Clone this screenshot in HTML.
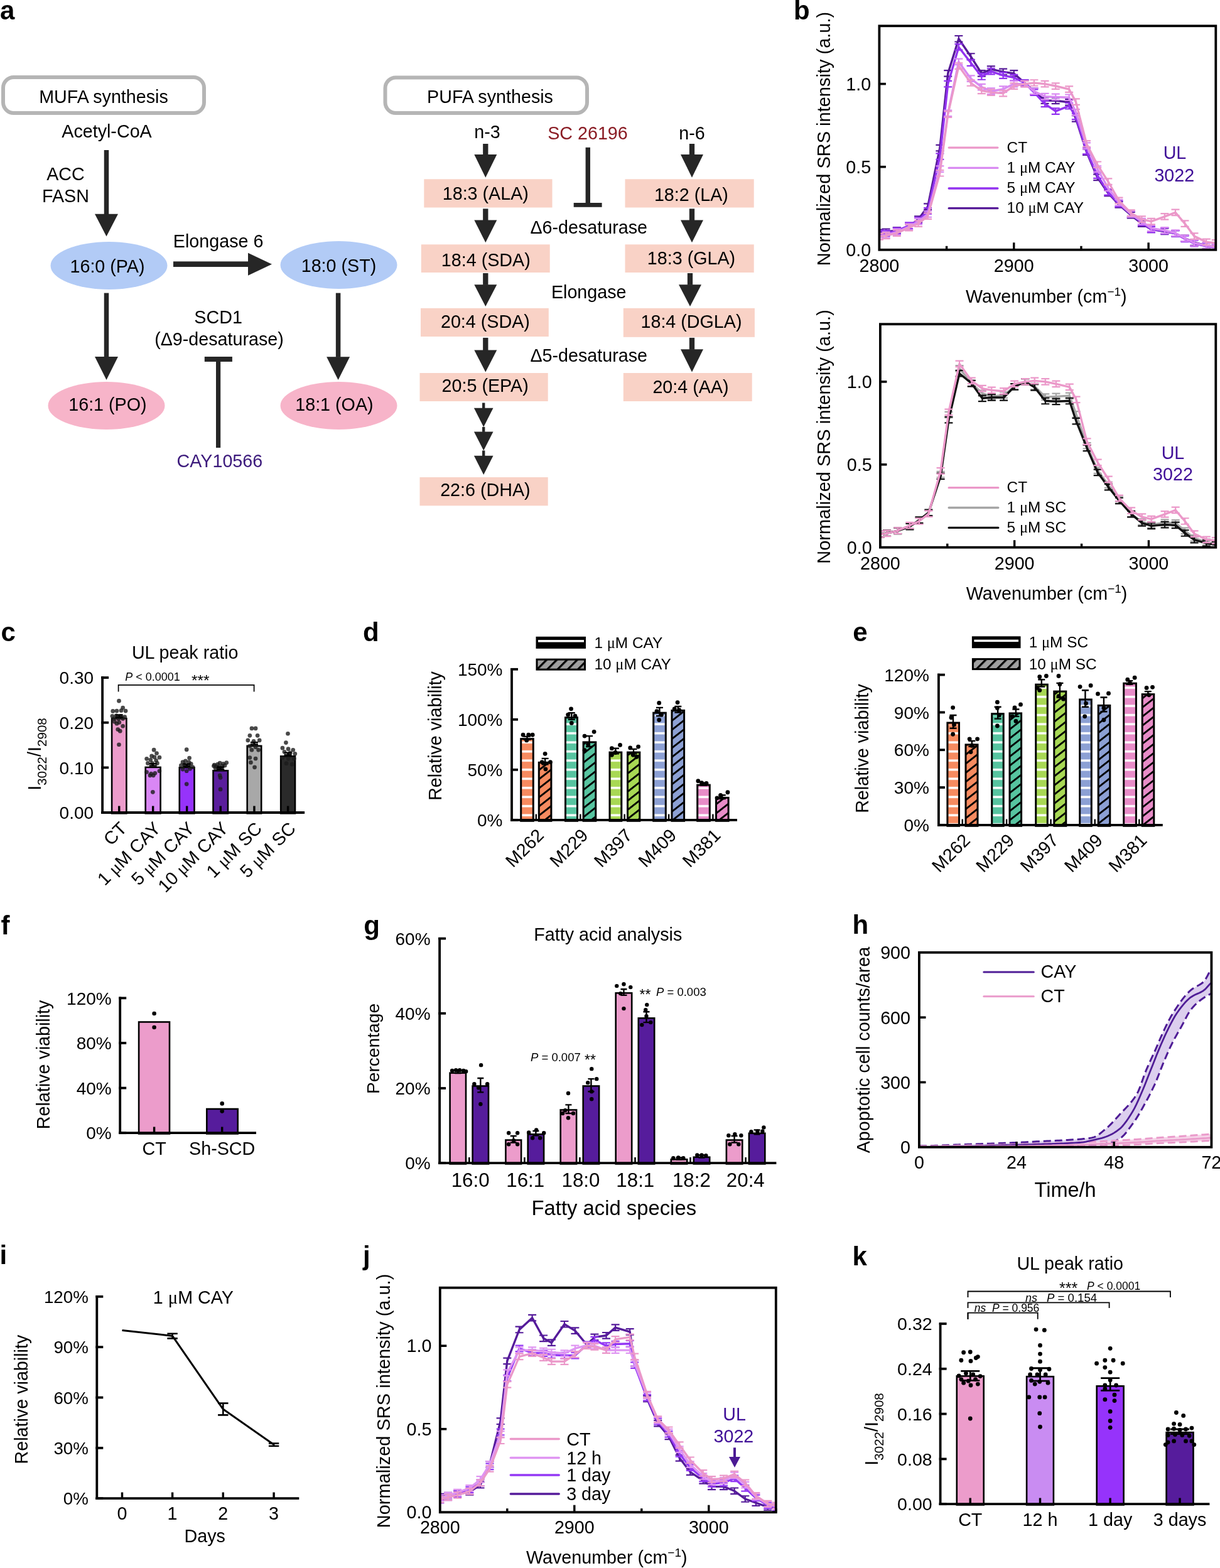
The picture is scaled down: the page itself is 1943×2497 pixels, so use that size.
<!DOCTYPE html>
<html><head><meta charset="utf-8"><title>Figure</title>
<style>
html,body{margin:0;padding:0;background:#fff;overflow:hidden;}
svg{display:block;}
</style></head>
<body>
<svg width="1943" height="2497" viewBox="0 0 1943 2497" font-family='"Liberation Sans", Arial, sans-serif' font-size="28.7">
<rect width="1943" height="2497" fill="#fff"/>
<text x="0" y="30.5" font-size="42" font-weight="bold">a</text>
<rect x="5" y="123" width="320" height="57" fill="#fff" stroke="#b5b5b5" stroke-width="6" rx="17"/>
<text x="165" y="163.5" text-anchor="middle">MUFA synthesis</text>
<rect x="613.5" y="123.5" width="321.5" height="56.5" fill="#fff" stroke="#b5b5b5" stroke-width="6" rx="17"/>
<text x="780.5" y="163.5" text-anchor="middle">PUFA synthesis</text>
<text x="170" y="218.5" text-anchor="middle">Acetyl-CoA</text>
<text x="104.5" y="287" text-anchor="middle">ACC</text>
<text x="104.5" y="322" text-anchor="middle">FASN</text>
<rect x="165.75" y="239" width="7.5" height="102.2" fill="#262626"/>
<polygon points="151,340.7 188,340.7 169.5,376.6" fill="#262626"/>
<ellipse cx="173.5" cy="423" rx="93" ry="38" fill="#b2cbf6"/>
<ellipse cx="539.5" cy="422" rx="93" ry="38" fill="#b2cbf6"/>
<text x="171" y="433.9" text-anchor="middle">16:0 (PA)</text>
<text x="539.5" y="432.7" text-anchor="middle">18:0 (ST)</text>
<text x="347.6" y="393.6" text-anchor="middle">Elongase 6</text>
<rect x="276" y="416.35" width="119.5" height="8.7" fill="#262626"/>
<polygon points="395,402.7 395,438.7 433,420.7" fill="#262626"/>
<rect x="165.75" y="466.6" width="7.5" height="101.9" fill="#262626"/>
<polygon points="151,568 188,568 169.5,605" fill="#262626"/>
<rect x="534.85" y="466.6" width="7.5" height="102.2" fill="#262626"/>
<polygon points="520.1,568.3 557.1,568.3 538.6,605" fill="#262626"/>
<ellipse cx="169.5" cy="646" rx="93" ry="38" fill="#f7b4c9"/>
<ellipse cx="539.5" cy="646" rx="93" ry="38" fill="#f7b4c9"/>
<text x="171.4" y="653.8" text-anchor="middle">16:1 (PO)</text>
<text x="532.4" y="653.8" text-anchor="middle">18:1 (OA)</text>
<text x="347.6" y="514.8" text-anchor="middle">SCD1</text>
<text x="349" y="549.5" text-anchor="middle">(Δ9-desaturase)</text>
<rect x="344" y="572" width="7.2" height="141" fill="#262626"/>
<rect x="325.8" y="568" width="44.1" height="8" fill="#262626"/>
<text x="349.9" y="743.5" text-anchor="middle" fill="#3c1a7c">CAY10566</text>
<text x="776" y="219.8" text-anchor="middle">n-3</text>
<text x="936" y="222.4" text-anchor="middle" fill="#8a1c24">SC 26196</text>
<text x="1102" y="222.4" text-anchor="middle">n-6</text>
<rect x="769.15" y="229" width="8.3" height="17.5" fill="#262626"/>
<polygon points="755.3,246 791.3,246 773.3,282.7" fill="#262626"/>
<rect x="1097.85" y="229" width="8.3" height="17.5" fill="#262626"/>
<polygon points="1084,246 1120,246 1102,282.7" fill="#262626"/>
<rect x="675.3" y="285.3" width="204.2" height="45.2" fill="#f9d2c6"/>
<text x="773.3" y="317.7" text-anchor="middle">18:3 (ALA)</text>
<rect x="995.5" y="285.3" width="205.2" height="45.2" fill="#f9d2c6"/>
<text x="1100.9" y="320.3" text-anchor="middle">18:2 (LA)</text>
<rect x="670.8" y="389.3" width="204.9" height="44.7" fill="#f9d2c6"/>
<text x="773.8" y="423.9" text-anchor="middle">18:4 (SDA)</text>
<rect x="995.5" y="389.3" width="205.2" height="44.7" fill="#f9d2c6"/>
<text x="1101" y="420.9" text-anchor="middle">18:3 (GLA)</text>
<rect x="670" y="490.8" width="203.8" height="45.2" fill="#f9d2c6"/>
<text x="772.9" y="522.4" text-anchor="middle">20:4 (SDA)</text>
<rect x="992.8" y="490.8" width="209.1" height="46" fill="#f9d2c6"/>
<text x="1101" y="522.4" text-anchor="middle">18:4 (DGLA)</text>
<rect x="668.5" y="594" width="204.2" height="45" fill="#f9d2c6"/>
<text x="772.7" y="624.1" text-anchor="middle">20:5 (EPA)</text>
<rect x="992.8" y="594" width="204.9" height="45" fill="#f9d2c6"/>
<text x="1100" y="626.4" text-anchor="middle">20:4 (AA)</text>
<rect x="668.5" y="760" width="204.2" height="45.3" fill="#f9d2c6"/>
<text x="772.9" y="790.2" text-anchor="middle">22:6 (DHA)</text>
<rect x="932.6" y="234.8" width="7.4" height="91.2" fill="#262626"/>
<rect x="913.7" y="323" width="44.9" height="6.8" fill="#262626"/>
<rect x="769.15" y="332.4" width="8.3" height="18.6" fill="#262626"/>
<polygon points="755.3,350.5 791.3,350.5 773.3,386.2" fill="#262626"/>
<rect x="1097.85" y="332.4" width="8.3" height="18.6" fill="#262626"/>
<polygon points="1084,350.5 1120,350.5 1102,386.2" fill="#262626"/>
<text x="937.7" y="372" text-anchor="middle">Δ6-desaturase</text>
<rect x="769.15" y="435" width="8.3" height="18.8" fill="#262626"/>
<polygon points="755.3,453.3 791.3,453.3 773.3,488" fill="#262626"/>
<rect x="1094.85" y="435" width="8.3" height="18.8" fill="#262626"/>
<polygon points="1081,453.3 1117,453.3 1099,488" fill="#262626"/>
<text x="937.7" y="474.8" text-anchor="middle">Elongase</text>
<rect x="769.15" y="537.9" width="8.3" height="20.1" fill="#262626"/>
<polygon points="755.3,557.5 791.3,557.5 773.3,592.5" fill="#262626"/>
<rect x="1097.85" y="537.9" width="8.3" height="18.9" fill="#262626"/>
<polygon points="1084,556.3 1120,556.3 1102,592.5" fill="#262626"/>
<text x="937.7" y="576.3" text-anchor="middle">Δ5-desaturase</text>
<rect x="768" y="641.5" width="4.4" height="8.8" fill="#262626"/>
<polygon points="754.9,649.8 785.5,649.8 770.2,679.9" fill="#262626"/>
<rect x="768" y="679.9" width="4.4" height="8" fill="#262626"/>
<polygon points="754.9,687.4 785.5,687.4 770.2,717.5" fill="#262626"/>
<rect x="768" y="717.5" width="4.4" height="8.8" fill="#262626"/>
<polygon points="754.9,725.8 785.5,725.8 770.2,756" fill="#262626"/>
<text x="1264" y="30.5" font-size="42" font-weight="bold">b</text>
<defs><clipPath id="cb1"><rect x="1400.4" y="41.3" width="535.9" height="356.5"/></clipPath><clipPath id="cb2"><rect x="1401.9" y="516.2" width="534.4" height="355.5"/></clipPath><clipPath id="cj"><rect x="700.8" y="2050.7" width="535" height="357.5"/></clipPath></defs>
<g clip-path="url(#cb1)">
<path d="M1400.4,365.57V375.08M1393.9,365.57H1406.9M1393.9,375.08H1406.9M1411.12,364.51V374.02M1404.62,364.51H1417.62M1404.62,374.02H1417.62M1428.27,362.13V371.64M1421.77,362.13H1434.77M1421.77,371.64H1434.77M1447.56,356.32V365.83M1441.06,356.32H1454.06M1441.06,365.83H1454.06M1462.56,344.43V353.94M1456.06,344.43H1469.06M1456.06,353.94H1469.06M1477.57,324.35V333.86M1471.07,324.35H1484.07M1471.07,333.86H1484.07M1496.86,230.83V240.34M1490.36,230.83H1503.36M1490.36,240.34H1503.36M1509.72,112.2V121.71M1503.22,112.2H1516.22M1503.22,121.71H1516.22M1526.87,56.98V66.49M1520.37,56.98H1533.37M1520.37,66.49H1533.37M1546.16,85.25V94.76M1539.66,85.25H1552.66M1539.66,94.76H1552.66M1563.31,112.2V121.71M1556.81,112.2H1569.81M1556.81,121.71H1569.81M1578.32,105.33V114.84M1571.82,105.33H1584.82M1571.82,114.84H1584.82M1597.61,109.56V119.07M1591.11,109.56H1604.11M1591.11,119.07H1604.11M1614.76,112.2V121.71M1608.26,112.2H1621.26M1608.26,121.71H1621.26M1631.91,127.26V136.77M1625.41,127.26H1638.41M1625.41,136.77H1638.41M1646.91,140.47V149.98M1640.41,140.47H1653.41M1640.41,149.98H1653.41M1664.06,155.26V164.78M1657.56,155.26H1670.56M1657.56,164.78H1670.56M1681.21,155.53V165.04M1674.71,155.53H1687.71M1674.71,165.04H1687.71M1702.65,158.17V167.68M1696.15,158.17H1709.15M1696.15,167.68H1709.15M1713.37,184.06V193.57M1706.87,184.06H1719.87M1706.87,193.57H1719.87M1730.51,237.43V246.94M1724.01,237.43H1737.01M1724.01,246.94H1737.01M1747.66,277.59V287.1M1741.16,277.59H1754.16M1741.16,287.1H1754.16M1764.81,302.69V312.2M1758.31,302.69H1771.31M1758.31,312.2H1771.31M1781.96,321.18V330.69M1775.46,321.18H1788.46M1775.46,330.69H1788.46M1801.25,337.83V347.34M1794.75,337.83H1807.75M1794.75,347.34H1807.75M1818.4,351.3V360.81M1811.9,351.3H1824.9M1811.9,360.81H1824.9M1833.41,360.55V370.06M1826.91,360.55H1839.91M1826.91,370.06H1839.91M1854.84,363.72V373.23M1848.34,363.72H1861.34M1848.34,373.23H1861.34M1871.99,367.15V376.66M1865.49,367.15H1878.49M1865.49,376.66H1878.49M1887,374.55V384.06M1880.5,374.55H1893.5M1880.5,384.06H1893.5M1902,381.42V390.93M1895.5,381.42H1908.5M1895.5,390.93H1908.5M1921.29,386.44V395.95M1914.79,386.44H1927.79M1914.79,395.95H1927.79M1936.3,388.82V398.33M1929.8,388.82H1942.8M1929.8,398.33H1942.8" stroke="#561a98" stroke-width="2.2" fill="none"/>
<polyline points="1400.4,370.32 1411.12,369.27 1428.27,366.89 1447.56,361.08 1462.56,349.19 1477.57,329.11 1496.86,235.58 1509.72,116.96 1526.87,61.74 1546.16,90.01 1563.31,116.96 1578.32,110.09 1597.61,114.31 1614.76,116.96 1631.91,132.01 1646.91,145.22 1664.06,160.02 1681.21,160.28 1702.65,162.93 1713.37,188.82 1730.51,242.19 1747.66,282.34 1764.81,307.44 1781.96,325.94 1801.25,342.58 1818.4,356.06 1833.41,365.3 1854.84,368.47 1871.99,371.91 1887,379.31 1902,386.18 1921.29,391.19 1936.3,393.57" fill="none" stroke="#561a98" stroke-width="3.4" stroke-linejoin="round"/>
<path d="M1400.4,367.95V377.46M1393.9,367.95H1406.9M1393.9,377.46H1406.9M1411.12,366.62V376.14M1404.62,366.62H1417.62M1404.62,376.14H1417.62M1428.27,362.93V372.44M1421.77,362.93H1434.77M1421.77,372.44H1434.77M1447.56,354.47V363.98M1441.06,354.47H1454.06M1441.06,363.98H1454.06M1462.56,346.28V355.79M1456.06,346.28H1469.06M1456.06,355.79H1469.06M1477.57,331.22V340.73M1471.07,331.22H1484.07M1471.07,340.73H1484.07M1496.86,244.3V253.81M1490.36,244.3H1503.36M1490.36,253.81H1503.36M1509.72,128.84V138.36M1503.22,128.84H1516.22M1503.22,138.36H1516.22M1526.87,70.19V79.7M1520.37,70.19H1533.37M1520.37,79.7H1533.37M1546.16,95.29V104.8M1539.66,95.29H1552.66M1539.66,104.8H1552.66M1563.31,117.22V126.73M1556.81,117.22H1569.81M1556.81,126.73H1569.81M1578.32,108.77V118.28M1571.82,108.77H1584.82M1571.82,118.28H1584.82M1597.61,115.37V124.88M1591.11,115.37H1604.11M1591.11,124.88H1604.11M1614.76,118.8V128.32M1608.26,118.8H1621.26M1608.26,128.32H1621.26M1631.91,127.26V136.77M1625.41,127.26H1638.41M1625.41,136.77H1638.41M1646.91,142.32V151.83M1640.41,142.32H1653.41M1640.41,151.83H1653.41M1664.06,160.55V170.06M1657.56,160.55H1670.56M1657.56,170.06H1670.56M1681.21,172.44V181.95M1674.71,172.44H1687.71M1674.71,181.95H1687.71M1702.65,163.98V173.49M1696.15,163.98H1709.15M1696.15,173.49H1709.15M1713.37,180.63V190.14M1706.87,180.63H1719.87M1706.87,190.14H1719.87M1730.51,235.85V245.36M1724.01,235.85H1737.01M1724.01,245.36H1737.01M1747.66,274.42V283.93M1741.16,274.42H1754.16M1741.16,283.93H1754.16M1764.81,301.1V310.61M1758.31,301.1H1771.31M1758.31,310.61H1771.31M1781.96,319.6V329.11M1775.46,319.6H1788.46M1775.46,329.11H1788.46M1801.25,336.24V345.75M1794.75,336.24H1807.75M1794.75,345.75H1807.75M1818.4,349.45V358.96M1811.9,349.45H1824.9M1811.9,358.96H1824.9M1833.41,360.55V370.06M1826.91,360.55H1839.91M1826.91,370.06H1839.91M1854.84,362.93V372.44M1848.34,362.93H1861.34M1848.34,372.44H1861.34M1871.99,367.15V376.66M1865.49,367.15H1878.49M1865.49,376.66H1878.49M1887,375.61V385.12M1880.5,375.61H1893.5M1880.5,385.12H1893.5M1902,383V392.52M1895.5,383H1908.5M1895.5,392.52H1908.5M1921.29,387.23V396.74M1914.79,387.23H1927.79M1914.79,396.74H1927.79M1936.3,389.61V399.12M1929.8,389.61H1942.8M1929.8,399.12H1942.8" stroke="#9232f0" stroke-width="2.2" fill="none"/>
<polyline points="1400.4,372.7 1411.12,371.38 1428.27,367.68 1447.56,359.23 1462.56,351.04 1477.57,335.98 1496.86,249.06 1509.72,133.6 1526.87,74.95 1546.16,100.05 1563.31,121.98 1578.32,113.52 1597.61,120.13 1614.76,123.56 1631.91,132.01 1646.91,147.07 1664.06,165.3 1681.21,177.19 1702.65,168.74 1713.37,185.38 1730.51,240.6 1747.66,279.17 1764.81,305.86 1781.96,324.35 1801.25,341 1818.4,354.21 1833.41,365.3 1854.84,367.68 1871.99,371.91 1887,380.36 1902,387.76 1921.29,391.99 1936.3,394.37" fill="none" stroke="#9232f0" stroke-width="3.4" stroke-linejoin="round"/>
<path d="M1400.4,371.38V380.89M1393.9,371.38H1406.9M1393.9,380.89H1406.9M1411.12,369.27V378.78M1404.62,369.27H1417.62M1404.62,378.78H1417.62M1428.27,364.51V374.02M1421.77,364.51H1434.77M1421.77,374.02H1434.77M1447.56,356.32V365.83M1441.06,356.32H1454.06M1441.06,365.83H1454.06M1462.56,347.87V357.38M1456.06,347.87H1469.06M1456.06,357.38H1469.06M1477.57,336.24V345.75M1471.07,336.24H1484.07M1471.07,345.75H1484.07M1496.86,264.38V273.89M1490.36,264.38H1503.36M1490.36,273.89H1503.36M1509.72,175.61V185.12M1503.22,175.61H1516.22M1503.22,185.12H1516.22M1526.87,93.71V103.22M1520.37,93.71H1533.37M1520.37,103.22H1533.37M1546.16,120.39V129.9M1539.66,120.39H1552.66M1539.66,129.9H1552.66M1563.31,133.86V143.38M1556.81,133.86H1569.81M1556.81,143.38H1569.81M1578.32,140.47V149.98M1571.82,140.47H1584.82M1571.82,149.98H1584.82M1597.61,137.3V146.81M1591.11,137.3H1604.11M1591.11,146.81H1604.11M1614.76,128.84V138.36M1608.26,128.84H1621.26M1608.26,138.36H1621.26M1631.91,128.84V138.36M1625.41,128.84H1638.41M1625.41,138.36H1638.41M1646.91,140.47V149.98M1640.41,140.47H1653.41M1640.41,149.98H1653.41M1664.06,148.92V158.43M1657.56,148.92H1670.56M1657.56,158.43H1670.56M1681.21,149.72V159.23M1674.71,149.72H1687.71M1674.71,159.23H1687.71M1702.65,150.51V160.02M1696.15,150.51H1709.15M1696.15,160.02H1709.15M1713.37,174.02V183.53M1706.87,174.02H1719.87M1706.87,183.53H1719.87M1730.51,227.39V236.9M1724.01,227.39H1737.01M1724.01,236.9H1737.01M1747.66,264.38V273.89M1741.16,264.38H1754.16M1741.16,273.89H1754.16M1764.81,294.5V304.01M1758.31,294.5H1771.31M1758.31,304.01H1771.31M1781.96,317.75V327.26M1775.46,317.75H1788.46M1775.46,327.26H1788.46M1801.25,336.24V345.75M1794.75,336.24H1807.75M1794.75,345.75H1807.75M1818.4,347.87V357.38M1811.9,347.87H1824.9M1811.9,357.38H1824.9M1833.41,358.7V368.21M1826.91,358.7H1839.91M1826.91,368.21H1839.91M1854.84,362.13V371.64M1848.34,362.13H1861.34M1848.34,371.64H1861.34M1871.99,366.36V375.87M1865.49,366.36H1878.49M1865.49,375.87H1878.49M1887,374.55V384.06M1880.5,374.55H1893.5M1880.5,384.06H1893.5M1902,382.21V391.72M1895.5,382.21H1908.5M1895.5,391.72H1908.5M1921.29,386.44V395.95M1914.79,386.44H1927.79M1914.79,395.95H1927.79M1936.3,388.82V398.33M1929.8,388.82H1942.8M1929.8,398.33H1942.8" stroke="#d98af2" stroke-width="2.2" fill="none"/>
<polyline points="1400.4,376.14 1411.12,374.02 1428.27,369.27 1447.56,361.08 1462.56,352.62 1477.57,341 1496.86,269.13 1509.72,180.36 1526.87,98.46 1546.16,125.15 1563.31,138.62 1578.32,145.22 1597.61,142.05 1614.76,133.6 1631.91,133.6 1646.91,145.22 1664.06,153.68 1681.21,154.47 1702.65,155.26 1713.37,178.78 1730.51,232.15 1747.66,269.13 1764.81,299.25 1781.96,322.5 1801.25,341 1818.4,352.62 1833.41,363.45 1854.84,366.89 1871.99,371.12 1887,379.31 1902,386.97 1921.29,391.19 1936.3,393.57" fill="none" stroke="#d98af2" stroke-width="3.4" stroke-linejoin="round"/>
<path d="M1400.4,372.17V381.68M1393.9,372.17H1406.9M1393.9,381.68H1406.9M1411.12,370.59V380.1M1404.62,370.59H1417.62M1404.62,380.1H1417.62M1428.27,366.36V375.87M1421.77,366.36H1434.77M1421.77,375.87H1434.77M1447.56,357.91V367.42M1441.06,357.91H1454.06M1441.06,367.42H1454.06M1462.56,351.3V360.81M1456.06,351.3H1469.06M1456.06,360.81H1469.06M1477.57,339.41V348.92M1471.07,339.41H1484.07M1471.07,348.92H1484.07M1496.86,270.98V280.5M1490.36,270.98H1503.36M1490.36,280.5H1503.36M1509.72,177.46V186.97M1503.22,177.46H1516.22M1503.22,186.97H1516.22M1526.87,100.31V109.82M1520.37,100.31H1533.37M1520.37,109.82H1533.37M1546.16,127.26V136.77M1539.66,127.26H1552.66M1539.66,136.77H1552.66M1563.31,139.68V149.19M1556.81,139.68H1569.81M1556.81,149.19H1569.81M1578.32,142.32V151.83M1571.82,142.32H1584.82M1571.82,151.83H1584.82M1597.61,143.9V153.42M1591.11,143.9H1604.11M1591.11,153.42H1604.11M1614.76,132.28V141.79M1608.26,132.28H1621.26M1608.26,141.79H1621.26M1631.91,128.84V138.36M1625.41,128.84H1638.41M1625.41,138.36H1638.41M1646.91,127.26V136.77M1640.41,127.26H1653.41M1640.41,136.77H1653.41M1664.06,128.84V138.36M1657.56,128.84H1670.56M1657.56,138.36H1670.56M1681.21,132.28V141.79M1674.71,132.28H1687.71M1674.71,141.79H1687.71M1702.65,137.3V146.81M1696.15,137.3H1709.15M1696.15,146.81H1709.15M1713.37,157.38V166.89M1706.87,157.38H1719.87M1706.87,166.89H1719.87M1730.51,224.22V233.73M1724.01,224.22H1737.01M1724.01,233.73H1737.01M1747.66,257.51V267.02M1741.16,257.51H1754.16M1741.16,267.02H1754.16M1764.81,284.46V293.97M1758.31,284.46H1771.31M1758.31,293.97H1771.31M1781.96,314.58V324.09M1775.46,314.58H1788.46M1775.46,324.09H1788.46M1801.25,334.39V343.9M1794.75,334.39H1807.75M1794.75,343.9H1807.75M1818.4,344.43V353.94M1811.9,344.43H1824.9M1811.9,353.94H1824.9M1833.41,347.87V357.38M1826.91,347.87H1839.91M1826.91,357.38H1839.91M1854.84,340.2V349.72M1848.34,340.2H1861.34M1848.34,349.72H1861.34M1871.99,333.6V343.11M1865.49,333.6H1878.49M1865.49,343.11H1878.49M1887,351.3V360.81M1880.5,351.3H1893.5M1880.5,360.81H1893.5M1902,371.38V380.89M1895.5,371.38H1908.5M1895.5,380.89H1908.5M1921.29,380.63V390.14M1914.79,380.63H1927.79M1914.79,390.14H1927.79M1936.3,382.21V391.72M1929.8,382.21H1942.8M1929.8,391.72H1942.8" stroke="#eb98c9" stroke-width="2.2" fill="none"/>
<polyline points="1400.4,376.93 1411.12,375.34 1428.27,371.12 1447.56,362.66 1462.56,356.06 1477.57,344.17 1496.86,275.74 1509.72,182.21 1526.87,105.07 1546.16,132.01 1563.31,144.43 1578.32,147.07 1597.61,148.66 1614.76,137.03 1631.91,133.6 1646.91,132.01 1664.06,133.6 1681.21,137.03 1702.65,142.05 1713.37,162.13 1730.51,228.98 1747.66,262.27 1764.81,289.21 1781.96,319.33 1801.25,339.15 1818.4,349.19 1833.41,352.62 1854.84,344.96 1871.99,338.36 1887,356.06 1902,376.14 1921.29,385.38 1936.3,386.97" fill="none" stroke="#eb98c9" stroke-width="3.4" stroke-linejoin="round"/>
</g>
<rect x="1400.4" y="41.3" width="535.9" height="356.5" fill="none" stroke="#000" stroke-width="3.8"/>
<line x1="1400.4" y1="265.7" x2="1410.9" y2="265.7" stroke="#000" stroke-width="3.6"/>
<line x1="1400.4" y1="133.6" x2="1410.9" y2="133.6" stroke="#000" stroke-width="3.6"/>
<text x="1387.1" y="408" text-anchor="end">0.0</text>
<text x="1387.1" y="275.9" text-anchor="end">0.5</text>
<text x="1387.1" y="143.8" text-anchor="end">1.0</text>
<line x1="1507.58" y1="397.8" x2="1507.58" y2="391.8" stroke="#000" stroke-width="3.4"/>
<line x1="1614.76" y1="397.8" x2="1614.76" y2="386.3" stroke="#000" stroke-width="3.4"/>
<line x1="1721.94" y1="397.8" x2="1721.94" y2="391.8" stroke="#000" stroke-width="3.4"/>
<line x1="1829.12" y1="397.8" x2="1829.12" y2="386.3" stroke="#000" stroke-width="3.4"/>
<line x1="1936.3" y1="397.8" x2="1936.3" y2="391.8" stroke="#000" stroke-width="3.4"/>
<text x="1400.4" y="433.2" text-anchor="middle">2800</text>
<text x="1614.76" y="433.2" text-anchor="middle">2900</text>
<text x="1829.12" y="433.2" text-anchor="middle">3000</text>
<text x="1666.35" y="481.5" text-anchor="middle">Wavenumber (cm<tspan font-size="19" dy="-11">−1</tspan><tspan dy="11">)</tspan></text>
<text x="1322.5" y="221.05" font-size="29" text-anchor="middle" transform="rotate(-90 1322.5 221.05)">Normalized SRS intensity (a.u.)</text>
<line x1="1511.2" y1="235.1" x2="1588.9" y2="235.1" stroke="#eb98c9" stroke-width="3.3" stroke-linecap="round"/>
<text x="1603.6" y="242.5" font-size="24.4">CT</text>
<line x1="1511.2" y1="267.4" x2="1588.9" y2="267.4" stroke="#d98af2" stroke-width="3.3" stroke-linecap="round"/>
<text x="1603.6" y="274.8" font-size="24.4">1 <tspan font-family="Liberation Serif">μ</tspan>M CAY</text>
<line x1="1511.2" y1="300" x2="1588.9" y2="300" stroke="#9232f0" stroke-width="3.3" stroke-linecap="round"/>
<text x="1603.6" y="307.4" font-size="24.4">5 <tspan font-family="Liberation Serif">μ</tspan>M CAY</text>
<line x1="1511.2" y1="331.7" x2="1588.9" y2="331.7" stroke="#561a98" stroke-width="3.3" stroke-linecap="round"/>
<text x="1603.6" y="339.1" font-size="24.4">10 <tspan font-family="Liberation Serif">μ</tspan>M CAY</text>
<text x="1871" y="253.2" text-anchor="middle" fill="#400f98">UL</text>
<text x="1870.3" y="288.8" text-anchor="middle" fill="#400f98">3022</text>
<g clip-path="url(#cb2)">
<path d="M1401.9,845.85V855.34M1395.4,845.85H1408.4M1395.4,855.34H1408.4M1412.59,844.26V853.76M1406.09,844.26H1419.09M1406.09,853.76H1419.09M1429.69,840.57V850.07M1423.19,840.57H1436.19M1423.19,850.07H1436.19M1448.93,832.66V842.15M1442.43,832.66H1455.43M1442.43,842.15H1455.43M1463.89,824.74V834.24M1457.39,824.74H1470.39M1457.39,834.24H1470.39M1478.85,812.87V822.37M1472.35,812.87H1485.35M1472.35,822.37H1485.35M1498.09,750.88V760.38M1491.59,750.88H1504.59M1491.59,760.38H1504.59M1510.92,655.91V665.41M1504.42,655.91H1517.42M1504.42,665.41H1517.42M1528.02,582.05V591.54M1521.52,582.05H1534.52M1521.52,591.54H1534.52M1547.26,605.79V615.29M1540.76,605.79H1553.76M1540.76,615.29H1553.76M1564.36,621.62V631.11M1557.86,621.62H1570.86M1557.86,631.11H1570.86M1579.32,626.89V636.39M1572.82,626.89H1585.82M1572.82,636.39H1585.82M1598.56,624.26V633.75M1592.06,624.26H1605.06M1592.06,633.75H1605.06M1615.66,611.07V620.56M1609.16,611.07H1622.16M1609.16,620.56H1622.16M1632.76,603.15V612.65M1626.26,603.15H1639.26M1626.26,612.65H1639.26M1647.72,610.54V620.03M1641.22,610.54H1654.22M1641.22,620.03H1654.22M1664.82,627.42V636.92M1658.32,627.42H1671.32M1658.32,636.92H1671.32M1681.93,626.63V636.13M1675.43,626.63H1688.43M1675.43,636.13H1688.43M1703.3,625.57V635.07M1696.8,625.57H1709.8M1696.8,635.07H1709.8M1713.99,655.12V664.62M1707.49,655.12H1720.49M1707.49,664.62H1720.49M1731.09,704.98V714.48M1724.59,704.98H1737.59M1724.59,714.48H1737.59M1748.19,744.28V753.78M1741.69,744.28H1754.69M1741.69,753.78H1754.69M1765.29,767.5V777M1758.79,767.5H1771.79M1758.79,777H1771.79M1782.39,789.66V799.15M1775.89,789.66H1788.89M1775.89,799.15H1788.89M1801.63,813.93V823.42M1795.13,813.93H1808.13M1795.13,823.42H1808.13M1818.73,826.33V835.82M1812.23,826.33H1825.23M1812.23,835.82H1825.23M1833.7,830.81V840.31M1827.2,830.81H1840.2M1827.2,840.31H1840.2M1855.07,827.38V836.88M1848.57,827.38H1861.57M1848.57,836.88H1861.57M1872.17,828.17V837.67M1865.67,828.17H1878.67M1865.67,837.67H1878.67M1887.14,840.57V850.07M1880.64,840.57H1893.64M1880.64,850.07H1893.64M1902.1,852.18V861.68M1895.6,852.18H1908.6M1895.6,861.68H1908.6M1921.34,858.51V868.01M1914.84,858.51H1927.84M1914.84,868.01H1927.84M1936.3,861.94V871.44M1929.8,861.94H1942.8M1929.8,871.44H1942.8" stroke="#a5a5a5" stroke-width="2.2" fill="none"/>
<polyline points="1401.9,850.6 1412.59,849.01 1429.69,845.32 1448.93,837.41 1463.89,829.49 1478.85,817.62 1498.09,755.63 1510.92,660.66 1528.02,586.8 1547.26,610.54 1564.36,626.37 1579.32,631.64 1598.56,629 1615.66,615.81 1632.76,607.9 1647.72,615.29 1664.82,632.17 1681.93,631.38 1703.3,630.32 1713.99,659.87 1731.09,709.73 1748.19,749.03 1765.29,772.25 1782.39,794.41 1801.63,818.68 1818.73,831.07 1833.7,835.56 1855.07,832.13 1872.17,832.92 1887.14,845.32 1902.1,856.93 1921.34,863.26 1936.3,866.69" fill="none" stroke="#a5a5a5" stroke-width="3.4" stroke-linejoin="round"/>
<path d="M1401.9,845.85V855.34M1395.4,845.85H1408.4M1395.4,855.34H1408.4M1412.59,844.26V853.76M1406.09,844.26H1419.09M1406.09,853.76H1419.09M1429.69,840.57V850.07M1423.19,840.57H1436.19M1423.19,850.07H1436.19M1448.93,833.98V843.47M1442.43,833.98H1455.43M1442.43,843.47H1455.43M1463.89,823.42V832.92M1457.39,823.42H1470.39M1457.39,832.92H1470.39M1478.85,811.55V821.05M1472.35,811.55H1485.35M1472.35,821.05H1485.35M1498.09,753.52V763.01M1491.59,753.52H1504.59M1491.59,763.01H1504.59M1510.92,663.83V673.32M1504.42,663.83H1517.42M1504.42,673.32H1517.42M1528.02,589.96V599.46M1521.52,589.96H1534.52M1521.52,599.46H1534.52M1547.26,605.79V615.29M1540.76,605.79H1553.76M1540.76,615.29H1553.76M1564.36,629.53V639.03M1557.86,629.53H1570.86M1557.86,639.03H1570.86M1579.32,628.21V637.71M1572.82,628.21H1585.82M1572.82,637.71H1585.82M1598.56,628.21V637.71M1592.06,628.21H1605.06M1592.06,637.71H1605.06M1615.66,611.07V620.56M1609.16,611.07H1622.16M1609.16,620.56H1622.16M1632.76,603.15V612.65M1626.26,603.15H1639.26M1626.26,612.65H1639.26M1647.72,612.12V621.62M1641.22,612.12H1654.22M1641.22,621.62H1654.22M1664.82,633.75V643.25M1658.32,633.75H1671.32M1658.32,643.25H1671.32M1681.93,634.54V644.04M1675.43,634.54H1688.43M1675.43,644.04H1688.43M1703.3,633.75V643.25M1696.8,633.75H1709.8M1696.8,643.25H1709.8M1713.99,665.94V675.43M1707.49,665.94H1720.49M1707.49,675.43H1720.49M1731.09,708.67V718.17M1724.59,708.67H1737.59M1724.59,718.17H1737.59M1748.19,747.71V757.21M1741.69,747.71H1754.69M1741.69,757.21H1754.69M1765.29,770.93V780.43M1758.79,770.93H1771.79M1758.79,780.43H1771.79M1782.39,792.56V802.06M1775.89,792.56H1788.89M1775.89,802.06H1788.89M1801.63,813.93V823.42M1795.13,813.93H1808.13M1795.13,823.42H1808.13M1818.73,828.17V837.67M1812.23,828.17H1825.23M1812.23,837.67H1825.23M1833.7,832.66V842.15M1827.2,832.66H1840.2M1827.2,842.15H1840.2M1855.07,830.81V840.31M1848.57,830.81H1861.57M1848.57,840.31H1861.57M1872.17,831.6V841.1M1865.67,831.6H1878.67M1865.67,841.1H1878.67M1887.14,844.26V853.76M1880.64,844.26H1893.64M1880.64,853.76H1893.64M1902.1,854.82V864.31M1895.6,854.82H1908.6M1895.6,864.31H1908.6M1921.34,860.36V869.85M1914.84,860.36H1927.84M1914.84,869.85H1927.84M1936.3,862.73V872.23M1929.8,862.73H1942.8M1929.8,872.23H1942.8" stroke="#111111" stroke-width="2.2" fill="none"/>
<polyline points="1401.9,850.6 1412.59,849.01 1429.69,845.32 1448.93,838.73 1463.89,828.17 1478.85,816.3 1498.09,758.27 1510.92,668.57 1528.02,594.71 1547.26,610.54 1564.36,634.28 1579.32,632.96 1598.56,632.96 1615.66,615.81 1632.76,607.9 1647.72,616.87 1664.82,638.5 1681.93,639.29 1703.3,638.5 1713.99,670.68 1731.09,713.42 1748.19,752.46 1765.29,775.68 1782.39,797.31 1801.63,818.68 1818.73,832.92 1833.7,837.41 1855.07,835.56 1872.17,836.35 1887.14,849.01 1902.1,859.57 1921.34,865.11 1936.3,867.48" fill="none" stroke="#111111" stroke-width="3.4" stroke-linejoin="round"/>
<path d="M1401.9,846.11V855.61M1395.4,846.11H1408.4M1395.4,855.61H1408.4M1412.59,844.53V854.03M1406.09,844.53H1419.09M1406.09,854.03H1419.09M1429.69,840.31V849.8M1423.19,840.31H1436.19M1423.19,849.8H1436.19M1448.93,831.87V841.36M1442.43,831.87H1455.43M1442.43,841.36H1455.43M1463.89,825.27V834.77M1457.39,825.27H1470.39M1457.39,834.77H1470.39M1478.85,813.4V822.9M1472.35,813.4H1485.35M1472.35,822.9H1485.35M1498.09,745.08V754.57M1491.59,745.08H1504.59M1491.59,754.57H1504.59M1510.92,651.69V661.19M1504.42,651.69H1517.42M1504.42,661.19H1517.42M1528.02,574.66V584.16M1521.52,574.66H1534.52M1521.52,584.16H1534.52M1547.26,601.57V611.07M1540.76,601.57H1553.76M1540.76,611.07H1553.76M1564.36,613.97V623.46M1557.86,613.97H1570.86M1557.86,623.46H1570.86M1579.32,616.61V626.1M1572.82,616.61H1585.82M1572.82,626.1H1585.82M1598.56,618.19V627.68M1592.06,618.19H1605.06M1592.06,627.68H1605.06M1615.66,606.58V616.08M1609.16,606.58H1622.16M1609.16,616.08H1622.16M1632.76,603.15V612.65M1626.26,603.15H1639.26M1626.26,612.65H1639.26M1647.72,601.57V611.07M1641.22,601.57H1654.22M1641.22,611.07H1654.22M1664.82,603.15V612.65M1658.32,603.15H1671.32M1658.32,612.65H1671.32M1681.93,606.58V616.08M1675.43,606.58H1688.43M1675.43,616.08H1688.43M1703.3,611.59V621.09M1696.8,611.59H1709.8M1696.8,621.09H1709.8M1713.99,631.64V641.14M1707.49,631.64H1720.49M1707.49,641.14H1720.49M1731.09,698.38V707.88M1724.59,698.38H1737.59M1724.59,707.88H1737.59M1748.19,731.62V741.12M1741.69,731.62H1754.69M1741.69,741.12H1754.69M1765.29,758.53V768.03M1758.79,758.53H1771.79M1758.79,768.03H1771.79M1782.39,788.6V798.1M1775.89,788.6H1788.89M1775.89,798.1H1788.89M1801.63,808.39V817.88M1795.13,808.39H1808.13M1795.13,817.88H1808.13M1818.73,818.41V827.91M1812.23,818.41H1825.23M1812.23,827.91H1825.23M1833.7,821.84V831.34M1827.2,821.84H1840.2M1827.2,831.34H1840.2M1855.07,814.19V823.69M1848.57,814.19H1861.57M1848.57,823.69H1861.57M1872.17,807.6V817.09M1865.67,807.6H1878.67M1865.67,817.09H1878.67M1887.14,825.27V834.77M1880.64,825.27H1893.64M1880.64,834.77H1893.64M1902.1,845.32V854.82M1895.6,845.32H1908.6M1895.6,854.82H1908.6M1921.34,854.55V864.05M1914.84,854.55H1927.84M1914.84,864.05H1927.84M1936.3,856.14V865.63M1929.8,856.14H1942.8M1929.8,865.63H1942.8" stroke="#eb98c9" stroke-width="2.2" fill="none"/>
<polyline points="1401.9,850.86 1412.59,849.28 1429.69,845.06 1448.93,836.61 1463.89,830.02 1478.85,818.15 1498.09,749.82 1510.92,656.44 1528.02,579.41 1547.26,606.32 1564.36,618.72 1579.32,621.35 1598.56,622.94 1615.66,611.33 1632.76,607.9 1647.72,606.32 1664.82,607.9 1681.93,611.33 1703.3,616.34 1713.99,636.39 1731.09,703.13 1748.19,736.37 1765.29,763.28 1782.39,793.35 1801.63,813.14 1818.73,823.16 1833.7,826.59 1855.07,818.94 1872.17,812.35 1887.14,830.02 1902.1,850.07 1921.34,859.3 1936.3,860.88" fill="none" stroke="#eb98c9" stroke-width="3.4" stroke-linejoin="round"/>
</g>
<rect x="1401.9" y="516.2" width="534.4" height="355.5" fill="none" stroke="#000" stroke-width="3.8"/>
<line x1="1401.9" y1="739.8" x2="1412.4" y2="739.8" stroke="#000" stroke-width="3.6"/>
<line x1="1401.9" y1="607.9" x2="1412.4" y2="607.9" stroke="#000" stroke-width="3.6"/>
<text x="1388.6" y="881.9" text-anchor="end">0.0</text>
<text x="1388.6" y="750" text-anchor="end">0.5</text>
<text x="1388.6" y="618.1" text-anchor="end">1.0</text>
<line x1="1508.78" y1="871.7" x2="1508.78" y2="865.7" stroke="#000" stroke-width="3.4"/>
<line x1="1615.66" y1="871.7" x2="1615.66" y2="860.2" stroke="#000" stroke-width="3.4"/>
<line x1="1722.54" y1="871.7" x2="1722.54" y2="865.7" stroke="#000" stroke-width="3.4"/>
<line x1="1829.42" y1="871.7" x2="1829.42" y2="860.2" stroke="#000" stroke-width="3.4"/>
<line x1="1936.3" y1="871.7" x2="1936.3" y2="865.7" stroke="#000" stroke-width="3.4"/>
<text x="1401.9" y="907.1" text-anchor="middle">2800</text>
<text x="1615.66" y="907.1" text-anchor="middle">2900</text>
<text x="1829.42" y="907.1" text-anchor="middle">3000</text>
<text x="1667.1" y="955.4" text-anchor="middle">Wavenumber (cm<tspan font-size="19" dy="-11">−1</tspan><tspan dy="11">)</tspan></text>
<text x="1322.5" y="695.45" font-size="29" text-anchor="middle" transform="rotate(-90 1322.5 695.45)">Normalized SRS intensity (a.u.)</text>
<line x1="1511.2" y1="776.7" x2="1589.8" y2="776.7" stroke="#eb98c9" stroke-width="3.3" stroke-linecap="round"/>
<text x="1603.6" y="784.1" font-size="24.4">CT</text>
<line x1="1511.2" y1="808.5" x2="1589.8" y2="808.5" stroke="#a5a5a5" stroke-width="3.3" stroke-linecap="round"/>
<text x="1603.6" y="815.9" font-size="24.4">1 <tspan font-family="Liberation Serif">μ</tspan>M SC</text>
<line x1="1511.2" y1="840.4" x2="1589.8" y2="840.4" stroke="#111111" stroke-width="3.3" stroke-linecap="round"/>
<text x="1603.6" y="847.8" font-size="24.4">5 <tspan font-family="Liberation Serif">μ</tspan>M SC</text>
<text x="1868" y="731" text-anchor="middle" fill="#400f98">UL</text>
<text x="1868" y="764.5" text-anchor="middle" fill="#400f98">3022</text>
<text x="1.5" y="1021.3" font-size="42" font-weight="bold">c</text>
<text x="294.7" y="1048.9" text-anchor="middle">UL peak ratio</text>
<rect x="178.1" y="1144.14" width="23.3" height="149.86" fill="#ec9ccb"/>
<rect x="178.1" y="1144.14" width="23.3" height="151.16" fill="none" stroke="#000" stroke-width="2.6"/>
<rect x="231.7" y="1221.87" width="23.9" height="72.13" fill="#d987f5"/>
<rect x="231.7" y="1221.87" width="23.9" height="73.43" fill="none" stroke="#000" stroke-width="2.6"/>
<rect x="285.8" y="1222.37" width="23.7" height="71.63" fill="#9633fb"/>
<rect x="285.8" y="1222.37" width="23.7" height="72.93" fill="none" stroke="#000" stroke-width="2.6"/>
<rect x="339.5" y="1227.24" width="23.5" height="66.76" fill="#5a1e9c"/>
<rect x="339.5" y="1227.24" width="23.5" height="68.06" fill="none" stroke="#000" stroke-width="2.6"/>
<rect x="393.7" y="1187.84" width="22.5" height="106.16" fill="#a8a8a8"/>
<rect x="393.7" y="1187.84" width="22.5" height="107.46" fill="none" stroke="#000" stroke-width="2.6"/>
<rect x="447.2" y="1204.32" width="22.8" height="89.68" fill="#2a2a2a"/>
<rect x="447.2" y="1204.32" width="22.8" height="90.98" fill="none" stroke="#000" stroke-width="2.6"/>
<circle cx="189.48" cy="1116.15" r="3.35" fill="#1c1c1c"  fill-opacity="0.8"/>
<circle cx="195.66" cy="1127.1" r="3.35" fill="#1c1c1c"  fill-opacity="0.8"/>
<circle cx="179.77" cy="1132.4" r="3.35" fill="#1c1c1c"  fill-opacity="0.8"/>
<circle cx="185.95" cy="1132.05" r="3.35" fill="#1c1c1c"  fill-opacity="0.8"/>
<circle cx="193.01" cy="1131.52" r="3.35" fill="#1c1c1c"  fill-opacity="0.8"/>
<circle cx="200.08" cy="1132.05" r="3.35" fill="#1c1c1c"  fill-opacity="0.8"/>
<circle cx="178.89" cy="1140.35" r="3.35" fill="#1c1c1c"  fill-opacity="0.8"/>
<circle cx="185.07" cy="1139.82" r="3.35" fill="#1c1c1c"  fill-opacity="0.8"/>
<circle cx="192.13" cy="1140.35" r="3.35" fill="#1c1c1c"  fill-opacity="0.8"/>
<circle cx="198.67" cy="1141.58" r="3.35" fill="#1c1c1c"  fill-opacity="0.8"/>
<circle cx="181.54" cy="1144.41" r="3.35" fill="#1c1c1c"  fill-opacity="0.8"/>
<circle cx="188.6" cy="1144.76" r="3.35" fill="#1c1c1c"  fill-opacity="0.8"/>
<circle cx="195.66" cy="1144.41" r="3.35" fill="#1c1c1c"  fill-opacity="0.8"/>
<circle cx="182.42" cy="1149.18" r="3.35" fill="#1c1c1c"  fill-opacity="0.8"/>
<circle cx="189.84" cy="1150.41" r="3.35" fill="#1c1c1c"  fill-opacity="0.8"/>
<circle cx="185.95" cy="1152.18" r="3.35" fill="#1c1c1c"  fill-opacity="0.8"/>
<circle cx="195.66" cy="1156.24" r="3.35" fill="#1c1c1c"  fill-opacity="0.8"/>
<circle cx="187.72" cy="1161.54" r="3.35" fill="#1c1c1c"  fill-opacity="0.8"/>
<circle cx="191.25" cy="1164.19" r="3.35" fill="#1c1c1c"  fill-opacity="0.8"/>
<circle cx="189.48" cy="1185.73" r="3.35" fill="#1c1c1c"  fill-opacity="0.8"/>
<circle cx="245.11" cy="1194.2" r="3.35" fill="#1c1c1c"  fill-opacity="0.8"/>
<circle cx="249.52" cy="1199.5" r="3.35" fill="#1c1c1c"  fill-opacity="0.8"/>
<circle cx="241.58" cy="1203.92" r="3.35" fill="#1c1c1c"  fill-opacity="0.8"/>
<circle cx="233.63" cy="1208.33" r="3.35" fill="#1c1c1c"  fill-opacity="0.8"/>
<circle cx="245.99" cy="1205.68" r="3.35" fill="#1c1c1c"  fill-opacity="0.8"/>
<circle cx="253.94" cy="1206.21" r="3.35" fill="#1c1c1c"  fill-opacity="0.8"/>
<circle cx="239.81" cy="1210.1" r="3.35" fill="#1c1c1c"  fill-opacity="0.8"/>
<circle cx="248.64" cy="1210.98" r="3.35" fill="#1c1c1c"  fill-opacity="0.8"/>
<circle cx="235.39" cy="1215.39" r="3.35" fill="#1c1c1c"  fill-opacity="0.8"/>
<circle cx="242.46" cy="1215.39" r="3.35" fill="#1c1c1c"  fill-opacity="0.8"/>
<circle cx="250.4" cy="1215.39" r="3.35" fill="#1c1c1c"  fill-opacity="0.8"/>
<circle cx="233.63" cy="1229.52" r="3.35" fill="#1c1c1c"  fill-opacity="0.8"/>
<circle cx="240.69" cy="1232.17" r="3.35" fill="#1c1c1c"  fill-opacity="0.8"/>
<circle cx="246.87" cy="1231.29" r="3.35" fill="#1c1c1c"  fill-opacity="0.8"/>
<circle cx="253.94" cy="1227.76" r="3.35" fill="#1c1c1c"  fill-opacity="0.8"/>
<circle cx="238.93" cy="1234.82" r="3.35" fill="#1c1c1c"  fill-opacity="0.8"/>
<circle cx="244.22" cy="1234.82" r="3.35" fill="#1c1c1c"  fill-opacity="0.8"/>
<circle cx="243.34" cy="1261.31" r="3.35" fill="#1c1c1c"  fill-opacity="0.8"/>
<circle cx="297.2" cy="1193.67" r="3.35" fill="#1c1c1c"  fill-opacity="0.8"/>
<circle cx="301.61" cy="1207.1" r="3.35" fill="#1c1c1c"  fill-opacity="0.8"/>
<circle cx="291.02" cy="1213.63" r="3.35" fill="#1c1c1c"  fill-opacity="0.8"/>
<circle cx="295.43" cy="1211.86" r="3.35" fill="#1c1c1c"  fill-opacity="0.8"/>
<circle cx="300.73" cy="1213.63" r="3.35" fill="#1c1c1c"  fill-opacity="0.8"/>
<circle cx="304.26" cy="1216.28" r="3.35" fill="#1c1c1c"  fill-opacity="0.8"/>
<circle cx="288.37" cy="1218.93" r="3.35" fill="#1c1c1c"  fill-opacity="0.8"/>
<circle cx="293.67" cy="1218.04" r="3.35" fill="#1c1c1c"  fill-opacity="0.8"/>
<circle cx="298.97" cy="1218.93" r="3.35" fill="#1c1c1c"  fill-opacity="0.8"/>
<circle cx="306.91" cy="1221.58" r="3.35" fill="#1c1c1c"  fill-opacity="0.8"/>
<circle cx="291.02" cy="1225.11" r="3.35" fill="#1c1c1c"  fill-opacity="0.8"/>
<circle cx="297.2" cy="1227.76" r="3.35" fill="#1c1c1c"  fill-opacity="0.8"/>
<circle cx="302.5" cy="1224.22" r="3.35" fill="#1c1c1c"  fill-opacity="0.8"/>
<circle cx="297.2" cy="1248.59" r="3.35" fill="#1c1c1c"  fill-opacity="0.8"/>
<circle cx="341.35" cy="1218.04" r="3.35" fill="#1c1c1c"  fill-opacity="0.8"/>
<circle cx="346.64" cy="1217.16" r="3.35" fill="#1c1c1c"  fill-opacity="0.8"/>
<circle cx="350.17" cy="1215.04" r="3.35" fill="#1c1c1c"  fill-opacity="0.8"/>
<circle cx="355.47" cy="1216.28" r="3.35" fill="#1c1c1c"  fill-opacity="0.8"/>
<circle cx="360.77" cy="1214.51" r="3.35" fill="#1c1c1c"  fill-opacity="0.8"/>
<circle cx="340.46" cy="1219.81" r="3.35" fill="#1c1c1c"  fill-opacity="0.8"/>
<circle cx="344.88" cy="1220.69" r="3.35" fill="#1c1c1c"  fill-opacity="0.8"/>
<circle cx="349.29" cy="1221.58" r="3.35" fill="#1c1c1c"  fill-opacity="0.8"/>
<circle cx="353.71" cy="1219.81" r="3.35" fill="#1c1c1c"  fill-opacity="0.8"/>
<circle cx="358.12" cy="1218.93" r="3.35" fill="#1c1c1c"  fill-opacity="0.8"/>
<circle cx="343.11" cy="1223.34" r="3.35" fill="#1c1c1c"  fill-opacity="0.8"/>
<circle cx="348.41" cy="1224.22" r="3.35" fill="#1c1c1c"  fill-opacity="0.8"/>
<circle cx="352.82" cy="1225.11" r="3.35" fill="#1c1c1c"  fill-opacity="0.8"/>
<circle cx="350.17" cy="1234.82" r="3.35" fill="#1c1c1c"  fill-opacity="0.8"/>
<circle cx="351.06" cy="1238.35" r="3.35" fill="#1c1c1c"  fill-opacity="0.8"/>
<circle cx="351.06" cy="1256.89" r="3.35" fill="#1c1c1c"  fill-opacity="0.8"/>
<circle cx="400.94" cy="1159.97" r="3.35" fill="#1c1c1c"  fill-opacity="0.8"/>
<circle cx="407.06" cy="1159.97" r="3.35" fill="#1c1c1c"  fill-opacity="0.8"/>
<circle cx="397.88" cy="1171.29" r="3.35" fill="#1c1c1c"  fill-opacity="0.8"/>
<circle cx="410.12" cy="1171.29" r="3.35" fill="#1c1c1c"  fill-opacity="0.8"/>
<circle cx="394.82" cy="1178.94" r="3.35" fill="#1c1c1c"  fill-opacity="0.8"/>
<circle cx="404" cy="1180.47" r="3.35" fill="#1c1c1c"  fill-opacity="0.8"/>
<circle cx="413.19" cy="1178.94" r="3.35" fill="#1c1c1c"  fill-opacity="0.8"/>
<circle cx="397.88" cy="1188.12" r="3.35" fill="#1c1c1c"  fill-opacity="0.8"/>
<circle cx="407.06" cy="1189.65" r="3.35" fill="#1c1c1c"  fill-opacity="0.8"/>
<circle cx="400.94" cy="1194.24" r="3.35" fill="#1c1c1c"  fill-opacity="0.8"/>
<circle cx="411.65" cy="1194.24" r="3.35" fill="#1c1c1c"  fill-opacity="0.8"/>
<circle cx="397.88" cy="1206.49" r="3.35" fill="#1c1c1c"  fill-opacity="0.8"/>
<circle cx="407.06" cy="1208.02" r="3.35" fill="#1c1c1c"  fill-opacity="0.8"/>
<circle cx="399.41" cy="1214.14" r="3.35" fill="#1c1c1c"  fill-opacity="0.8"/>
<circle cx="405.53" cy="1221.79" r="3.35" fill="#1c1c1c"  fill-opacity="0.8"/>
<circle cx="458.48" cy="1168.23" r="3.35" fill="#1c1c1c"  fill-opacity="0.8"/>
<circle cx="455.42" cy="1182.61" r="3.35" fill="#1c1c1c"  fill-opacity="0.8"/>
<circle cx="449.91" cy="1191.18" r="3.35" fill="#1c1c1c"  fill-opacity="0.8"/>
<circle cx="459.09" cy="1192.71" r="3.35" fill="#1c1c1c"  fill-opacity="0.8"/>
<circle cx="466.75" cy="1194.24" r="3.35" fill="#1c1c1c"  fill-opacity="0.8"/>
<circle cx="452.97" cy="1197.3" r="3.35" fill="#1c1c1c"  fill-opacity="0.8"/>
<circle cx="462.16" cy="1198.84" r="3.35" fill="#1c1c1c"  fill-opacity="0.8"/>
<circle cx="469.81" cy="1200.37" r="3.35" fill="#1c1c1c"  fill-opacity="0.8"/>
<circle cx="449.91" cy="1206.49" r="3.35" fill="#1c1c1c"  fill-opacity="0.8"/>
<circle cx="459.09" cy="1208.02" r="3.35" fill="#1c1c1c"  fill-opacity="0.8"/>
<circle cx="468.28" cy="1208.02" r="3.35" fill="#1c1c1c"  fill-opacity="0.8"/>
<circle cx="456.03" cy="1215.67" r="3.35" fill="#1c1c1c"  fill-opacity="0.8"/>
<circle cx="465.22" cy="1217.2" r="3.35" fill="#1c1c1c"  fill-opacity="0.8"/>
<path d="M189.75,1141.84V1138.54M183.75,1138.54H195.75M183.75,1141.84H195.75" stroke="#000" stroke-width="2.6" fill="none"/>
<line x1="189.75" y1="1294" x2="189.75" y2="1283.5" stroke="#000" stroke-width="3.4"/>
<path d="M243.65,1219.57V1216.27M237.65,1216.27H249.65M237.65,1219.57H249.65" stroke="#000" stroke-width="2.6" fill="none"/>
<line x1="243.65" y1="1294" x2="243.65" y2="1283.5" stroke="#000" stroke-width="3.4"/>
<path d="M297.65,1220.07V1216.77M291.65,1216.77H303.65M291.65,1220.07H303.65" stroke="#000" stroke-width="2.6" fill="none"/>
<line x1="297.65" y1="1294" x2="297.65" y2="1283.5" stroke="#000" stroke-width="3.4"/>
<path d="M351.25,1224.94V1221.64M345.25,1221.64H357.25M345.25,1224.94H357.25" stroke="#000" stroke-width="2.6" fill="none"/>
<line x1="351.25" y1="1294" x2="351.25" y2="1283.5" stroke="#000" stroke-width="3.4"/>
<path d="M404.95,1185.54V1182.24M398.95,1182.24H410.95M398.95,1185.54H410.95" stroke="#000" stroke-width="2.6" fill="none"/>
<line x1="404.95" y1="1294" x2="404.95" y2="1283.5" stroke="#000" stroke-width="3.4"/>
<path d="M458.6,1202.02V1198.72M452.6,1198.72H464.6M452.6,1202.02H464.6" stroke="#000" stroke-width="2.6" fill="none"/>
<line x1="458.6" y1="1294" x2="458.6" y2="1283.5" stroke="#000" stroke-width="3.4"/>
<line x1="163.1" y1="1077.1" x2="163.1" y2="1295.9" stroke="#000" stroke-width="3.8"/>
<line x1="161.2" y1="1294" x2="173.1" y2="1294" stroke="#000" stroke-width="3.8"/>
<text x="149.1" y="1304.2" font-size="28" text-anchor="end">0.00</text>
<line x1="161.2" y1="1222.36" x2="173.1" y2="1222.36" stroke="#000" stroke-width="3.8"/>
<text x="149.1" y="1232.56" font-size="28" text-anchor="end">0.10</text>
<line x1="161.2" y1="1150.72" x2="173.1" y2="1150.72" stroke="#000" stroke-width="3.8"/>
<text x="149.1" y="1160.92" font-size="28" text-anchor="end">0.20</text>
<line x1="161.2" y1="1079.08" x2="173.1" y2="1079.08" stroke="#000" stroke-width="3.8"/>
<text x="149.1" y="1089.28" font-size="28" text-anchor="end">0.30</text>
<line x1="161.2" y1="1294" x2="485.1" y2="1294" stroke="#000" stroke-width="3.8"/>
<path d="M188.6,1101.5V1090.9H404.6V1101.5" stroke="#000" stroke-width="1.7" fill="none"/>
<text x="199.2" y="1083.5" font-size="18"><tspan font-style="italic">P</tspan> &lt; 0.0001</text>
<text x="305" y="1091.5" font-size="24.5">***</text>
<text x="64.9" y="1201" font-size="29" text-anchor="middle" transform="rotate(-90 64.9 1201)">I<tspan font-size="20.5" dy="8.7">3022</tspan><tspan dy="-8.7">/I</tspan><tspan font-size="20.5" dy="8.7">2908</tspan></text>
<text x="203.75" y="1321" text-anchor="end" transform="rotate(-45 203.75 1321)">CT</text>
<text x="257.65" y="1321" text-anchor="end" transform="rotate(-45 257.65 1321)">1 <tspan font-family="Liberation Serif">μ</tspan>M CAY</text>
<text x="311.65" y="1321" text-anchor="end" transform="rotate(-45 311.65 1321)">5 <tspan font-family="Liberation Serif">μ</tspan>M CAY</text>
<text x="365.25" y="1321" text-anchor="end" transform="rotate(-45 365.25 1321)">10 <tspan font-family="Liberation Serif">μ</tspan>M CAY</text>
<text x="418.95" y="1321" text-anchor="end" transform="rotate(-45 418.95 1321)">1 <tspan font-family="Liberation Serif">μ</tspan>M SC</text>
<text x="472.6" y="1321" text-anchor="end" transform="rotate(-45 472.6 1321)">5 <tspan font-family="Liberation Serif">μ</tspan>M SC</text>
<defs><pattern id="stripe" patternUnits="userSpaceOnUse" width="14.2" height="14.2"><rect x="0" y="5.6" width="14.2" height="3" fill="#fff"/></pattern><pattern id="hatch" patternUnits="userSpaceOnUse" width="20" height="11.4" patternTransform="rotate(-38)"><rect x="0" y="0" width="20" height="2.9" fill="#000"/></pattern><pattern id="stripe2" patternUnits="userSpaceOnUse" width="20" height="14.5"><rect x="0" y="5.95" width="20" height="3.5" fill="#fff"/></pattern><pattern id="hatchL" patternUnits="userSpaceOnUse" width="11.5" height="11.5" patternTransform="rotate(45)"><rect x="0" y="0" width="3.2" height="11.5" fill="#000"/></pattern></defs>
<text x="578" y="1020.7" font-size="42" font-weight="bold">d</text>
<rect x="829.7" y="1176.63" width="19.6" height="129.17" fill="#f78b60"/>
<rect x="831.2" y="1180.13" width="16.6" height="125.67" fill="url(#stripe2)"/>
<rect x="829.7" y="1176.63" width="19.6" height="130.67" fill="none" stroke="#000" stroke-width="3"/>
<rect x="858.3" y="1214.29" width="19.6" height="91.51" fill="#f78b60"/>
<rect x="858.3" y="1214.29" width="19.6" height="91.51" fill="url(#hatch)"/>
<rect x="858.3" y="1214.29" width="19.6" height="93.01" fill="none" stroke="#000" stroke-width="3"/>
<rect x="900.5" y="1142.72" width="19" height="163.08" fill="#57c4a0"/>
<rect x="902" y="1146.22" width="16" height="159.58" fill="url(#stripe2)"/>
<rect x="900.5" y="1142.72" width="19" height="164.58" fill="none" stroke="#000" stroke-width="3"/>
<rect x="929.1" y="1181.9" width="19.7" height="123.9" fill="#57c4a0"/>
<rect x="929.1" y="1181.9" width="19.7" height="123.9" fill="url(#hatch)"/>
<rect x="929.1" y="1181.9" width="19.7" height="125.4" fill="none" stroke="#000" stroke-width="3"/>
<rect x="971" y="1198.1" width="18.8" height="107.7" fill="#a8d854"/>
<rect x="972.5" y="1201.6" width="15.8" height="104.2" fill="url(#stripe2)"/>
<rect x="971" y="1198.1" width="18.8" height="109.2" fill="none" stroke="#000" stroke-width="3"/>
<rect x="999.5" y="1198.1" width="19.3" height="107.7" fill="#a8d854"/>
<rect x="999.5" y="1198.1" width="19.3" height="107.7" fill="url(#hatch)"/>
<rect x="999.5" y="1198.1" width="19.3" height="109.2" fill="none" stroke="#000" stroke-width="3"/>
<rect x="1040.7" y="1135.19" width="19.6" height="170.61" fill="#8ca0d4"/>
<rect x="1042.2" y="1138.69" width="16.6" height="167.11" fill="url(#stripe2)"/>
<rect x="1040.7" y="1135.19" width="19.6" height="172.11" fill="none" stroke="#000" stroke-width="3"/>
<rect x="1070" y="1131.42" width="19.6" height="174.38" fill="#8ca0d4"/>
<rect x="1070" y="1131.42" width="19.6" height="174.38" fill="url(#hatch)"/>
<rect x="1070" y="1131.42" width="19.6" height="175.88" fill="none" stroke="#000" stroke-width="3"/>
<rect x="1110.7" y="1250.08" width="19.6" height="55.72" fill="#e88cc8"/>
<rect x="1112.2" y="1253.58" width="16.6" height="52.22" fill="url(#stripe2)"/>
<rect x="1110.7" y="1250.08" width="19.6" height="57.22" fill="none" stroke="#000" stroke-width="3"/>
<rect x="1140.5" y="1270.42" width="19.6" height="35.38" fill="#e88cc8"/>
<rect x="1140.5" y="1270.42" width="19.6" height="35.38" fill="url(#hatch)"/>
<rect x="1140.5" y="1270.42" width="19.6" height="36.88" fill="none" stroke="#000" stroke-width="3"/>
<circle cx="833.1" cy="1170.23" r="3.4" fill="#000"/>
<circle cx="841.76" cy="1170.23" r="3.4" fill="#000"/>
<circle cx="848.17" cy="1170.23" r="3.4" fill="#000"/>
<circle cx="838.75" cy="1178.89" r="3.4" fill="#000"/>
<circle cx="868.13" cy="1200.36" r="3.4" fill="#000"/>
<circle cx="863.24" cy="1213.55" r="3.4" fill="#000"/>
<circle cx="876.42" cy="1213.55" r="3.4" fill="#000"/>
<circle cx="868.89" cy="1224.85" r="3.4" fill="#000"/>
<circle cx="909.57" cy="1128.79" r="3.4" fill="#000"/>
<circle cx="904.67" cy="1138.21" r="3.4" fill="#000"/>
<circle cx="915.97" cy="1140.09" r="3.4" fill="#000"/>
<circle cx="910.32" cy="1151.39" r="3.4" fill="#000"/>
<circle cx="931.04" cy="1172.11" r="3.4" fill="#000"/>
<circle cx="946.11" cy="1165.33" r="3.4" fill="#000"/>
<circle cx="936.69" cy="1185.3" r="3.4" fill="#000"/>
<circle cx="931.04" cy="1194.71" r="3.4" fill="#000"/>
<circle cx="974.36" cy="1191.7" r="3.4" fill="#000"/>
<circle cx="987.54" cy="1186.43" r="3.4" fill="#000"/>
<circle cx="980.01" cy="1198.48" r="3.4" fill="#000"/>
<circle cx="974.36" cy="1202.25" r="3.4" fill="#000"/>
<circle cx="1003.74" cy="1190.95" r="3.4" fill="#000"/>
<circle cx="1016.55" cy="1189.06" r="3.4" fill="#000"/>
<circle cx="1008.26" cy="1202.25" r="3.4" fill="#000"/>
<circle cx="1013.91" cy="1205.26" r="3.4" fill="#000"/>
<circle cx="1049.7" cy="1119.38" r="3.4" fill="#000"/>
<circle cx="1045.93" cy="1132.56" r="3.4" fill="#000"/>
<circle cx="1053.46" cy="1138.21" r="3.4" fill="#000"/>
<circle cx="1049.7" cy="1146.5" r="3.4" fill="#000"/>
<circle cx="1079.08" cy="1118.62" r="3.4" fill="#000"/>
<circle cx="1074.18" cy="1128.79" r="3.4" fill="#000"/>
<circle cx="1081.72" cy="1130.68" r="3.4" fill="#000"/>
<circle cx="1111.85" cy="1243.68" r="3.4" fill="#000"/>
<circle cx="1117.5" cy="1246.7" r="3.4" fill="#000"/>
<circle cx="1125.04" cy="1247.45" r="3.4" fill="#000"/>
<circle cx="1147.64" cy="1266.28" r="3.4" fill="#000"/>
<circle cx="1158.94" cy="1261.76" r="3.4" fill="#000"/>
<circle cx="1141.99" cy="1270.8" r="3.4" fill="#000"/>
<path d="M839.5,1177.76V1172.87M834,1172.87H845M834,1177.76H845" stroke="#000" stroke-width="2.4" fill="none"/>
<path d="M868.13,1217.31V1207.9M862.63,1207.9H873.63M862.63,1217.31H873.63" stroke="#000" stroke-width="2.4" fill="none"/>
<path d="M910.32,1145.74V1135.2M904.82,1135.2H915.82M904.82,1145.74H915.82" stroke="#000" stroke-width="2.4" fill="none"/>
<path d="M938.57,1189.06V1172.11M933.07,1172.11H944.07M933.07,1189.06H944.07" stroke="#000" stroke-width="2.4" fill="none"/>
<path d="M980.39,1200.36V1191.7M974.89,1191.7H985.89M974.89,1200.36H985.89" stroke="#000" stroke-width="2.4" fill="none"/>
<path d="M1009.01,1200.36V1192.83M1003.51,1192.83H1014.51M1003.51,1200.36H1014.51" stroke="#000" stroke-width="2.4" fill="none"/>
<path d="M1050.45,1140.09V1126.91M1044.95,1126.91H1055.95M1044.95,1140.09H1055.95" stroke="#000" stroke-width="2.4" fill="none"/>
<path d="M1079.83,1134.44V1125.03M1074.33,1125.03H1085.33M1074.33,1134.44H1085.33" stroke="#000" stroke-width="2.4" fill="none"/>
<path d="M1120.52,1250.46V1246.7M1115.02,1246.7H1126.02M1115.02,1250.46H1126.02" stroke="#000" stroke-width="2.4" fill="none"/>
<path d="M1150.27,1271.94V1266.28M1144.77,1266.28H1155.77M1144.77,1271.94H1155.77" stroke="#000" stroke-width="2.4" fill="none"/>
<line x1="853.8" y1="1305.8" x2="853.8" y2="1296.5" stroke="#000" stroke-width="2.4"/>
<line x1="924.3" y1="1305.8" x2="924.3" y2="1296.5" stroke="#000" stroke-width="2.4"/>
<line x1="994.65" y1="1305.8" x2="994.65" y2="1296.5" stroke="#000" stroke-width="2.4"/>
<line x1="1065.15" y1="1305.8" x2="1065.15" y2="1296.5" stroke="#000" stroke-width="2.4"/>
<line x1="1135.4" y1="1305.8" x2="1135.4" y2="1296.5" stroke="#000" stroke-width="2.4"/>
<line x1="815" y1="1064" x2="815" y2="1307.7" stroke="#000" stroke-width="3.8"/>
<line x1="813.1" y1="1305.8" x2="825" y2="1305.8" stroke="#000" stroke-width="3.8"/>
<text x="800.5" y="1316" font-size="28" text-anchor="end">0%</text>
<line x1="813.1" y1="1225.8" x2="825" y2="1225.8" stroke="#000" stroke-width="3.8"/>
<text x="800.5" y="1236" font-size="28" text-anchor="end">50%</text>
<line x1="813.1" y1="1145.8" x2="825" y2="1145.8" stroke="#000" stroke-width="3.8"/>
<text x="800.5" y="1156" font-size="28" text-anchor="end">100%</text>
<line x1="813.1" y1="1065.8" x2="825" y2="1065.8" stroke="#000" stroke-width="3.8"/>
<text x="800.5" y="1076" font-size="28" text-anchor="end">150%</text>
<line x1="813" y1="1305.8" x2="1174" y2="1305.8" stroke="#000" stroke-width="3.8"/>
<rect x="853.5" y="1013.8" width="79.5" height="19.1" fill="#000"/>
<rect x="857" y="1019.1" width="73" height="3.5" fill="#fff"/>
<rect x="855" y="1050.2" width="76.5" height="16" fill="#a0a0a0"/>
<rect x="855" y="1050.2" width="76.5" height="16" fill="url(#hatchL)"/>
<rect x="855" y="1050.2" width="76.5" height="16" fill="none" stroke="#000" stroke-width="3"/>
<text x="946.4" y="1031.8" font-size="24.4">1 <tspan font-family="Liberation Serif">μ</tspan>M CAY</text>
<text x="946.4" y="1066.1" font-size="24.4">10 <tspan font-family="Liberation Serif">μ</tspan>M CAY</text>
<text x="703" y="1172" text-anchor="middle" transform="rotate(-90 703 1172)">Relative viability</text>
<text x="867.8" y="1332" text-anchor="end" transform="rotate(-45 867.8 1332)">M262</text>
<text x="938.3" y="1332" text-anchor="end" transform="rotate(-45 938.3 1332)">M229</text>
<text x="1008.65" y="1332" text-anchor="end" transform="rotate(-45 1008.65 1332)">M397</text>
<text x="1079.15" y="1332" text-anchor="end" transform="rotate(-45 1079.15 1332)">M409</text>
<text x="1149.4" y="1332" text-anchor="end" transform="rotate(-45 1149.4 1332)">M381</text>
<text x="1358.2" y="1020.9" font-size="42" font-weight="bold">e</text>
<rect x="1508.9" y="1151.05" width="18.6" height="162.75" fill="#f78b60"/>
<rect x="1510.4" y="1154.55" width="15.6" height="159.25" fill="url(#stripe2)"/>
<rect x="1508.9" y="1151.05" width="18.6" height="164.25" fill="none" stroke="#000" stroke-width="3"/>
<rect x="1538" y="1185.87" width="19" height="127.93" fill="#f78b60"/>
<rect x="1538" y="1185.87" width="19" height="127.93" fill="url(#hatch)"/>
<rect x="1538" y="1185.87" width="19" height="129.43" fill="none" stroke="#000" stroke-width="3"/>
<rect x="1579.7" y="1136.67" width="18.5" height="177.13" fill="#57c4a0"/>
<rect x="1581.2" y="1140.17" width="15.5" height="173.63" fill="url(#stripe2)"/>
<rect x="1579.7" y="1136.67" width="18.5" height="178.63" fill="none" stroke="#000" stroke-width="3"/>
<rect x="1608" y="1135.91" width="18.6" height="177.89" fill="#57c4a0"/>
<rect x="1608" y="1135.91" width="18.6" height="177.89" fill="url(#hatch)"/>
<rect x="1608" y="1135.91" width="18.6" height="179.39" fill="none" stroke="#000" stroke-width="3"/>
<rect x="1649.7" y="1090.12" width="18.6" height="223.68" fill="#a8d854"/>
<rect x="1651.2" y="1093.62" width="15.6" height="220.18" fill="url(#stripe2)"/>
<rect x="1649.7" y="1090.12" width="18.6" height="225.18" fill="none" stroke="#000" stroke-width="3"/>
<rect x="1678.8" y="1101.09" width="19" height="212.71" fill="#a8d854"/>
<rect x="1678.8" y="1101.09" width="19" height="212.71" fill="url(#hatch)"/>
<rect x="1678.8" y="1101.09" width="19" height="214.21" fill="none" stroke="#000" stroke-width="3"/>
<rect x="1719.7" y="1113.96" width="18.6" height="199.84" fill="#8ca0d4"/>
<rect x="1721.2" y="1117.46" width="15.6" height="196.34" fill="url(#stripe2)"/>
<rect x="1719.7" y="1113.96" width="18.6" height="201.34" fill="none" stroke="#000" stroke-width="3"/>
<rect x="1749.2" y="1123.42" width="18.6" height="190.38" fill="#8ca0d4"/>
<rect x="1749.2" y="1123.42" width="18.6" height="190.38" fill="url(#hatch)"/>
<rect x="1749.2" y="1123.42" width="18.6" height="191.88" fill="none" stroke="#000" stroke-width="3"/>
<rect x="1789.7" y="1088.23" width="19.7" height="225.57" fill="#e88cc8"/>
<rect x="1791.2" y="1091.73" width="16.7" height="222.07" fill="url(#stripe2)"/>
<rect x="1789.7" y="1088.23" width="19.7" height="227.07" fill="none" stroke="#000" stroke-width="3"/>
<rect x="1819.2" y="1105.63" width="18.6" height="208.17" fill="#e88cc8"/>
<rect x="1819.2" y="1105.63" width="18.6" height="208.17" fill="url(#hatch)"/>
<rect x="1819.2" y="1105.63" width="18.6" height="209.67" fill="none" stroke="#000" stroke-width="3"/>
<circle cx="1517.61" cy="1126.84" r="3.4" fill="#000"/>
<circle cx="1514.96" cy="1142.74" r="3.4" fill="#000"/>
<circle cx="1519.51" cy="1154.09" r="3.4" fill="#000"/>
<circle cx="1517.61" cy="1169.23" r="3.4" fill="#000"/>
<circle cx="1544.11" cy="1176.8" r="3.4" fill="#000"/>
<circle cx="1556.59" cy="1176.8" r="3.4" fill="#000"/>
<circle cx="1547.89" cy="1187.4" r="3.4" fill="#000"/>
<circle cx="1546" cy="1197.61" r="3.4" fill="#000"/>
<circle cx="1588.39" cy="1118.14" r="3.4" fill="#000"/>
<circle cx="1588.39" cy="1127.6" r="3.4" fill="#000"/>
<circle cx="1591.41" cy="1138.95" r="3.4" fill="#000"/>
<circle cx="1588.39" cy="1155.98" r="3.4" fill="#000"/>
<circle cx="1616.01" cy="1126.84" r="3.4" fill="#000"/>
<circle cx="1625.47" cy="1121.92" r="3.4" fill="#000"/>
<circle cx="1612.23" cy="1140.84" r="3.4" fill="#000"/>
<circle cx="1617.9" cy="1148.41" r="3.4" fill="#000"/>
<circle cx="1655.75" cy="1077.64" r="3.4" fill="#000"/>
<circle cx="1666.35" cy="1076.51" r="3.4" fill="#000"/>
<circle cx="1651.97" cy="1095.43" r="3.4" fill="#000"/>
<circle cx="1655.75" cy="1099.21" r="3.4" fill="#000"/>
<circle cx="1686.03" cy="1076.51" r="3.4" fill="#000"/>
<circle cx="1687.92" cy="1089.75" r="3.4" fill="#000"/>
<circle cx="1686.03" cy="1108.68" r="3.4" fill="#000"/>
<circle cx="1693.6" cy="1113.22" r="3.4" fill="#000"/>
<circle cx="1720.09" cy="1093.54" r="3.4" fill="#000"/>
<circle cx="1737.12" cy="1091.65" r="3.4" fill="#000"/>
<circle cx="1729.55" cy="1120.03" r="3.4" fill="#000"/>
<circle cx="1727.66" cy="1140.84" r="3.4" fill="#000"/>
<circle cx="1748.47" cy="1104.89" r="3.4" fill="#000"/>
<circle cx="1765.5" cy="1104.13" r="3.4" fill="#000"/>
<circle cx="1757.93" cy="1127.6" r="3.4" fill="#000"/>
<circle cx="1757.93" cy="1146.52" r="3.4" fill="#000"/>
<circle cx="1795.78" cy="1082.18" r="3.4" fill="#000"/>
<circle cx="1807.13" cy="1079.16" r="3.4" fill="#000"/>
<circle cx="1799.56" cy="1087.86" r="3.4" fill="#000"/>
<circle cx="1826.06" cy="1095.43" r="3.4" fill="#000"/>
<circle cx="1835.52" cy="1094.29" r="3.4" fill="#000"/>
<circle cx="1829.84" cy="1106.78" r="3.4" fill="#000"/>
<path d="M1517.99,1138.95V1159.77M1512.49,1159.77H1523.49M1512.49,1138.95H1523.49" stroke="#000" stroke-width="2.4" fill="none"/>
<path d="M1547.89,1179.83V1188.91M1542.39,1188.91H1553.39M1542.39,1179.83H1553.39" stroke="#000" stroke-width="2.4" fill="none"/>
<path d="M1589.14,1125.71V1144.63M1583.64,1144.63H1594.64M1583.64,1125.71H1594.64" stroke="#000" stroke-width="2.4" fill="none"/>
<path d="M1617.9,1129.49V1140.84M1612.4,1140.84H1623.4M1612.4,1129.49H1623.4" stroke="#000" stroke-width="2.4" fill="none"/>
<path d="M1658.78,1082.18V1093.54M1653.28,1093.54H1664.28M1653.28,1082.18H1664.28" stroke="#000" stroke-width="2.4" fill="none"/>
<path d="M1687.92,1087.86V1110.57M1682.42,1110.57H1693.42M1682.42,1087.86H1693.42" stroke="#000" stroke-width="2.4" fill="none"/>
<path d="M1728.41,1099.21V1125.71M1722.91,1125.71H1733.91M1722.91,1099.21H1733.91" stroke="#000" stroke-width="2.4" fill="none"/>
<path d="M1757.93,1110.57V1133.28M1752.43,1133.28H1763.43M1752.43,1110.57H1763.43" stroke="#000" stroke-width="2.4" fill="none"/>
<path d="M1798.81,1084.08V1089.75M1793.31,1089.75H1804.31M1793.31,1084.08H1804.31" stroke="#000" stroke-width="2.4" fill="none"/>
<path d="M1828.33,1101.11V1106.78M1822.83,1106.78H1833.83M1822.83,1101.11H1833.83" stroke="#000" stroke-width="2.4" fill="none"/>
<line x1="1532.75" y1="1313.8" x2="1532.75" y2="1304.5" stroke="#000" stroke-width="2.4"/>
<line x1="1603.1" y1="1313.8" x2="1603.1" y2="1304.5" stroke="#000" stroke-width="2.4"/>
<line x1="1673.55" y1="1313.8" x2="1673.55" y2="1304.5" stroke="#000" stroke-width="2.4"/>
<line x1="1743.75" y1="1313.8" x2="1743.75" y2="1304.5" stroke="#000" stroke-width="2.4"/>
<line x1="1814.3" y1="1313.8" x2="1814.3" y2="1304.5" stroke="#000" stroke-width="2.4"/>
<line x1="1494.9" y1="1072.7" x2="1494.9" y2="1315.7" stroke="#000" stroke-width="3.8"/>
<line x1="1493" y1="1313.8" x2="1504.9" y2="1313.8" stroke="#000" stroke-width="3.8"/>
<text x="1479.9" y="1324" font-size="28" text-anchor="end">0%</text>
<line x1="1493" y1="1254" x2="1504.9" y2="1254" stroke="#000" stroke-width="3.8"/>
<text x="1479.9" y="1264.2" font-size="28" text-anchor="end">30%</text>
<line x1="1493" y1="1194.2" x2="1504.9" y2="1194.2" stroke="#000" stroke-width="3.8"/>
<text x="1479.9" y="1204.4" font-size="28" text-anchor="end">60%</text>
<line x1="1493" y1="1134.4" x2="1504.9" y2="1134.4" stroke="#000" stroke-width="3.8"/>
<text x="1479.9" y="1144.6" font-size="28" text-anchor="end">90%</text>
<line x1="1493" y1="1074.6" x2="1504.9" y2="1074.6" stroke="#000" stroke-width="3.8"/>
<text x="1479.9" y="1084.8" font-size="28" text-anchor="end">120%</text>
<line x1="1493" y1="1313.8" x2="1851.8" y2="1313.8" stroke="#000" stroke-width="3.8"/>
<rect x="1547.9" y="1013.3" width="77.6" height="18.9" fill="#000"/>
<rect x="1551.4" y="1018.6" width="70.6" height="3.5" fill="#fff"/>
<rect x="1549.4" y="1049.6" width="74.6" height="16" fill="#a0a0a0"/>
<rect x="1549.4" y="1049.6" width="74.6" height="16" fill="url(#hatchL)"/>
<rect x="1549.4" y="1049.6" width="74.6" height="16" fill="none" stroke="#000" stroke-width="3"/>
<text x="1638.7" y="1031" font-size="24.4">1 <tspan font-family="Liberation Serif">μ</tspan>M SC</text>
<text x="1638.7" y="1066.3" font-size="24.4">10 <tspan font-family="Liberation Serif">μ</tspan>M SC</text>
<text x="1383" y="1192" text-anchor="middle" transform="rotate(-90 1383 1192)">Relative viability</text>
<text x="1546.75" y="1340" text-anchor="end" transform="rotate(-45 1546.75 1340)">M262</text>
<text x="1617.1" y="1340" text-anchor="end" transform="rotate(-45 1617.1 1340)">M229</text>
<text x="1687.55" y="1340" text-anchor="end" transform="rotate(-45 1687.55 1340)">M397</text>
<text x="1757.75" y="1340" text-anchor="end" transform="rotate(-45 1757.75 1340)">M409</text>
<text x="1828.3" y="1340" text-anchor="end" transform="rotate(-45 1828.3 1340)">M381</text>
<text x="1.6" y="1487.8" font-size="42" font-weight="bold">f</text>
<rect x="221.1" y="1627.5" width="48.9" height="176.7" fill="#ec9ccb"/>
<rect x="221.1" y="1627.5" width="48.9" height="178" fill="none" stroke="#000" stroke-width="2.6"/>
<rect x="329.3" y="1766" width="49.4" height="38.2" fill="#561c9c"/>
<rect x="329.3" y="1766" width="49.4" height="39.5" fill="none" stroke="#000" stroke-width="2.6"/>
<circle cx="245.6" cy="1614" r="3.3" fill="#000"/>
<circle cx="245.6" cy="1636" r="3.3" fill="#000"/>
<circle cx="353.7" cy="1757.4" r="3.3" fill="#000"/>
<circle cx="353.7" cy="1769.6" r="3.3" fill="#000"/>
<line x1="245.6" y1="1804.2" x2="245.6" y2="1794.5" stroke="#000" stroke-width="3.4"/>
<line x1="353.7" y1="1804.2" x2="353.7" y2="1794.5" stroke="#000" stroke-width="3.4"/>
<line x1="191.2" y1="1587.4" x2="191.2" y2="1806.1" stroke="#000" stroke-width="3.8"/>
<line x1="189.3" y1="1804.2" x2="201.2" y2="1804.2" stroke="#000" stroke-width="3.8"/>
<text x="177.7" y="1814.4" font-size="28" text-anchor="end">0%</text>
<line x1="189.3" y1="1732.6" x2="201.2" y2="1732.6" stroke="#000" stroke-width="3.8"/>
<text x="177.7" y="1742.8" font-size="28" text-anchor="end">40%</text>
<line x1="189.3" y1="1661" x2="201.2" y2="1661" stroke="#000" stroke-width="3.8"/>
<text x="177.7" y="1671.2" font-size="28" text-anchor="end">80%</text>
<line x1="189.3" y1="1589.4" x2="201.2" y2="1589.4" stroke="#000" stroke-width="3.8"/>
<text x="177.7" y="1599.6" font-size="28" text-anchor="end">120%</text>
<line x1="189.3" y1="1804.2" x2="408" y2="1804.2" stroke="#000" stroke-width="3.8"/>
<text x="245.6" y="1838.8" text-anchor="middle">CT</text>
<text x="353.7" y="1838.8" text-anchor="middle">Sh-SCD</text>
<text x="79.5" y="1695.4" text-anchor="middle" transform="rotate(-90 79.5 1695.4)">Relative viability</text>
<text x="579.2" y="1488" font-size="42" font-weight="bold">g</text>
<text x="968.3" y="1498" text-anchor="middle">Fatty acid analysis</text>
<rect x="716.6" y="1708.66" width="25.4" height="143.54" fill="#ec9ccb"/>
<rect x="716.6" y="1708.66" width="25.4" height="144.84" fill="none" stroke="#000" stroke-width="2.6"/>
<rect x="752.6" y="1729.47" width="25.4" height="122.73" fill="#561c9c"/>
<rect x="752.6" y="1729.47" width="25.4" height="124.03" fill="none" stroke="#000" stroke-width="2.6"/>
<rect x="805.4" y="1815.52" width="24.7" height="36.68" fill="#ec9ccb"/>
<rect x="805.4" y="1815.52" width="24.7" height="37.98" fill="none" stroke="#000" stroke-width="2.6"/>
<rect x="840.7" y="1806.32" width="25.4" height="45.88" fill="#561c9c"/>
<rect x="840.7" y="1806.32" width="25.4" height="47.18" fill="none" stroke="#000" stroke-width="2.6"/>
<rect x="892.7" y="1767.5" width="25.4" height="84.7" fill="#ec9ccb"/>
<rect x="892.7" y="1767.5" width="25.4" height="86" fill="none" stroke="#000" stroke-width="2.6"/>
<rect x="928.7" y="1729.47" width="25.4" height="122.73" fill="#561c9c"/>
<rect x="928.7" y="1729.47" width="25.4" height="124.03" fill="none" stroke="#000" stroke-width="2.6"/>
<rect x="980.7" y="1581.38" width="25.5" height="270.82" fill="#ec9ccb"/>
<rect x="980.7" y="1581.38" width="25.5" height="272.12" fill="none" stroke="#000" stroke-width="2.6"/>
<rect x="1016.8" y="1621.41" width="25.4" height="230.79" fill="#561c9c"/>
<rect x="1016.8" y="1621.41" width="25.4" height="232.09" fill="none" stroke="#000" stroke-width="2.6"/>
<rect x="1068.8" y="1846.34" width="25.4" height="5.86" fill="#ec9ccb"/>
<rect x="1068.8" y="1846.34" width="25.4" height="7.16" fill="none" stroke="#000" stroke-width="2.6"/>
<rect x="1104.8" y="1842.74" width="25.4" height="9.46" fill="#561c9c"/>
<rect x="1104.8" y="1842.74" width="25.4" height="10.76" fill="none" stroke="#000" stroke-width="2.6"/>
<rect x="1156.9" y="1815.52" width="25.4" height="36.68" fill="#ec9ccb"/>
<rect x="1156.9" y="1815.52" width="25.4" height="37.98" fill="none" stroke="#000" stroke-width="2.6"/>
<rect x="1192.9" y="1804.72" width="25.4" height="47.48" fill="#561c9c"/>
<rect x="1192.9" y="1804.72" width="25.4" height="48.78" fill="none" stroke="#000" stroke-width="2.6"/>
<circle cx="720.1" cy="1704.96" r="3.2" fill="#000"/>
<circle cx="726.1" cy="1704.16" r="3.2" fill="#000"/>
<circle cx="732.1" cy="1704.16" r="3.2" fill="#000"/>
<circle cx="738.11" cy="1704.96" r="3.2" fill="#000"/>
<circle cx="742.11" cy="1706.16" r="3.2" fill="#000"/>
<circle cx="766.12" cy="1696.15" r="3.2" fill="#000"/>
<circle cx="776.13" cy="1726.17" r="3.2" fill="#000"/>
<circle cx="762.12" cy="1732.18" r="3.2" fill="#000"/>
<circle cx="765.32" cy="1758.19" r="3.2" fill="#000"/>
<circle cx="755.32" cy="1726.17" r="3.2" fill="#000"/>
<circle cx="810.15" cy="1804.22" r="3.2" fill="#000"/>
<circle cx="824.16" cy="1804.22" r="3.2" fill="#000"/>
<circle cx="810.15" cy="1822.23" r="3.2" fill="#000"/>
<circle cx="824.16" cy="1822.23" r="3.2" fill="#000"/>
<circle cx="818.15" cy="1816.23" r="3.2" fill="#000"/>
<circle cx="842.17" cy="1803.42" r="3.2" fill="#000"/>
<circle cx="854.18" cy="1799.42" r="3.2" fill="#000"/>
<circle cx="866.18" cy="1804.22" r="3.2" fill="#000"/>
<circle cx="848.17" cy="1812.22" r="3.2" fill="#000"/>
<circle cx="860.18" cy="1812.22" r="3.2" fill="#000"/>
<circle cx="905.01" cy="1740.98" r="3.2" fill="#000"/>
<circle cx="896.2" cy="1773" r="3.2" fill="#000"/>
<circle cx="913.01" cy="1773" r="3.2" fill="#000"/>
<circle cx="905.01" cy="1780.2" r="3.2" fill="#000"/>
<circle cx="900.2" cy="1768.2" r="3.2" fill="#000"/>
<circle cx="942.23" cy="1702.16" r="3.2" fill="#000"/>
<circle cx="950.23" cy="1718.17" r="3.2" fill="#000"/>
<circle cx="936.23" cy="1724.17" r="3.2" fill="#000"/>
<circle cx="942.23" cy="1738.18" r="3.2" fill="#000"/>
<circle cx="942.23" cy="1750.19" r="3.2" fill="#000"/>
<circle cx="982.25" cy="1570.08" r="3.2" fill="#000"/>
<circle cx="993.46" cy="1567.28" r="3.2" fill="#000"/>
<circle cx="1004.27" cy="1572.08" r="3.2" fill="#000"/>
<circle cx="988.26" cy="1582.09" r="3.2" fill="#000"/>
<circle cx="993.46" cy="1606.1" r="3.2" fill="#000"/>
<circle cx="1030.28" cy="1600.1" r="3.2" fill="#000"/>
<circle cx="1028.28" cy="1608.1" r="3.2" fill="#000"/>
<circle cx="1022.28" cy="1632.12" r="3.2" fill="#000"/>
<circle cx="1036.29" cy="1628.11" r="3.2" fill="#000"/>
<circle cx="1029.48" cy="1618.11" r="3.2" fill="#000"/>
<circle cx="1072.31" cy="1844.24" r="3.2" fill="#000"/>
<circle cx="1080.31" cy="1843.44" r="3.2" fill="#000"/>
<circle cx="1088.32" cy="1844.24" r="3.2" fill="#000"/>
<circle cx="1110.33" cy="1839.44" r="3.2" fill="#000"/>
<circle cx="1117.53" cy="1839.44" r="3.2" fill="#000"/>
<circle cx="1124.34" cy="1840.24" r="3.2" fill="#000"/>
<circle cx="1160.36" cy="1808.22" r="3.2" fill="#000"/>
<circle cx="1170.37" cy="1806.22" r="3.2" fill="#000"/>
<circle cx="1180.37" cy="1808.22" r="3.2" fill="#000"/>
<circle cx="1162.36" cy="1822.23" r="3.2" fill="#000"/>
<circle cx="1176.37" cy="1822.23" r="3.2" fill="#000"/>
<circle cx="1216.39" cy="1795.41" r="3.2" fill="#000"/>
<circle cx="1196.38" cy="1802.22" r="3.2" fill="#000"/>
<circle cx="1206.39" cy="1801.42" r="3.2" fill="#000"/>
<circle cx="1214.39" cy="1801.42" r="3.2" fill="#000"/>
<path d="M729.3,1704.96V1708.96M724.3,1708.96H734.3M724.3,1704.96H734.3" stroke="#000" stroke-width="2.4" fill="none"/>
<path d="M765.32,1716.97V1739.38M760.32,1739.38H770.32M760.32,1716.97H770.32" stroke="#000" stroke-width="2.4" fill="none"/>
<path d="M817.75,1809.02V1819.43M812.75,1819.43H822.75M812.75,1809.02H822.75" stroke="#000" stroke-width="2.4" fill="none"/>
<path d="M853.38,1801.02V1808.22M848.38,1808.22H858.38M848.38,1801.02H858.38" stroke="#000" stroke-width="2.4" fill="none"/>
<path d="M905.41,1759.39V1773M900.41,1773H910.41M900.41,1759.39H910.41" stroke="#000" stroke-width="2.4" fill="none"/>
<path d="M941.43,1718.17V1738.18M936.43,1738.18H946.43M936.43,1718.17H946.43" stroke="#000" stroke-width="2.4" fill="none"/>
<path d="M993.46,1575.28V1584.89M988.46,1584.89H998.46M988.46,1575.28H998.46" stroke="#000" stroke-width="2.4" fill="none"/>
<path d="M1029.48,1611.3V1628.11M1024.48,1628.11H1034.48M1024.48,1611.3H1034.48" stroke="#000" stroke-width="2.4" fill="none"/>
<path d="M1081.51,1843.44V1846.64M1076.51,1846.64H1086.51M1076.51,1843.44H1086.51" stroke="#000" stroke-width="2.4" fill="none"/>
<path d="M1117.53,1839.44V1843.44M1112.53,1843.44H1122.53M1112.53,1839.44H1122.53" stroke="#000" stroke-width="2.4" fill="none"/>
<path d="M1169.57,1809.02V1819.43M1164.57,1819.43H1174.57M1164.57,1809.02H1174.57" stroke="#000" stroke-width="2.4" fill="none"/>
<path d="M1205.59,1799.42V1806.22M1200.59,1806.22H1210.59M1200.59,1799.42H1210.59" stroke="#000" stroke-width="2.4" fill="none"/>
<line x1="747.3" y1="1852.2" x2="747.3" y2="1843" stroke="#000" stroke-width="2.6"/>
<line x1="835.4" y1="1852.2" x2="835.4" y2="1843" stroke="#000" stroke-width="2.6"/>
<line x1="923.4" y1="1852.2" x2="923.4" y2="1843" stroke="#000" stroke-width="2.6"/>
<line x1="1011.5" y1="1852.2" x2="1011.5" y2="1843" stroke="#000" stroke-width="2.6"/>
<line x1="1099.5" y1="1852.2" x2="1099.5" y2="1843" stroke="#000" stroke-width="2.6"/>
<line x1="1187.6" y1="1852.2" x2="1187.6" y2="1843" stroke="#000" stroke-width="2.6"/>
<line x1="700.1" y1="1492.9" x2="700.1" y2="1854.1" stroke="#000" stroke-width="3.8"/>
<line x1="698.2" y1="1852.2" x2="710.1" y2="1852.2" stroke="#000" stroke-width="3.8"/>
<text x="685.6" y="1862.4" font-size="28" text-anchor="end">0%</text>
<line x1="698.2" y1="1733" x2="710.1" y2="1733" stroke="#000" stroke-width="3.8"/>
<text x="685.6" y="1743.2" font-size="28" text-anchor="end">20%</text>
<line x1="698.2" y1="1613.8" x2="710.1" y2="1613.8" stroke="#000" stroke-width="3.8"/>
<text x="685.6" y="1624" font-size="28" text-anchor="end">40%</text>
<line x1="698.2" y1="1494.6" x2="710.1" y2="1494.6" stroke="#000" stroke-width="3.8"/>
<text x="685.6" y="1504.8" font-size="28" text-anchor="end">60%</text>
<line x1="698.2" y1="1852.2" x2="1236.4" y2="1852.2" stroke="#000" stroke-width="3.8"/>
<text x="749.1" y="1890.3" font-size="31.3" text-anchor="middle">16:0</text>
<text x="836.7" y="1890.3" font-size="31.3" text-anchor="middle">16:1</text>
<text x="925" y="1890.3" font-size="31.3" text-anchor="middle">18:0</text>
<text x="1011.8" y="1890.3" font-size="31.3" text-anchor="middle">18:1</text>
<text x="1101.4" y="1890.3" font-size="31.3" text-anchor="middle">18:2</text>
<text x="1187.3" y="1890.3" font-size="31.3" text-anchor="middle">20:4</text>
<text x="977.8" y="1934.8" font-size="32.8" text-anchor="middle">Fatty acid species</text>
<text x="604" y="1670" font-size="28.2" text-anchor="middle" transform="rotate(-90 604 1670)">Percentage</text>
<text x="1018.5" y="1592" font-size="23">**</text>
<text x="1045" y="1586" font-size="18.5"><tspan font-style="italic">P</tspan> = 0.003</text>
<text x="845" y="1690" font-size="18.5"><tspan font-style="italic">P</tspan> = 0.007</text>
<text x="931" y="1696" font-size="23">**</text>
<text x="1357.5" y="1487.3" font-size="42" font-weight="bold">h</text>
<defs><clipPath id="ch"><rect x="1463.9" y="1516.8" width="465.5" height="310"/></clipPath></defs>
<g clip-path="url(#ch)">
<polygon points="1463.9,1824.73 1467.13,1824.73 1470.36,1824.7 1473.6,1824.67 1476.83,1824.61 1480.06,1824.55 1483.29,1824.48 1486.53,1824.39 1489.76,1824.3 1492.99,1824.2 1496.22,1824.09 1499.46,1823.97 1502.69,1823.85 1505.92,1823.72 1509.15,1823.59 1512.38,1823.46 1515.62,1823.33 1518.85,1823.2 1522.08,1823.06 1525.31,1822.93 1528.55,1822.8 1531.78,1822.67 1535.01,1822.55 1538.24,1822.43 1541.48,1822.32 1544.71,1822.22 1547.94,1822.11 1551.17,1822.01 1554.4,1821.9 1557.64,1821.8 1560.87,1821.69 1564.1,1821.58 1567.33,1821.48 1570.57,1821.37 1573.8,1821.27 1577.03,1821.16 1580.26,1821.05 1583.49,1820.94 1586.73,1820.82 1589.96,1820.71 1593.19,1820.59 1596.42,1820.48 1599.66,1820.35 1602.89,1820.23 1606.12,1820.1 1609.35,1819.98 1612.59,1819.84 1615.82,1819.71 1619.05,1819.57 1622.28,1819.42 1625.51,1819.27 1628.75,1819.1 1631.98,1818.93 1635.21,1818.75 1638.44,1818.57 1641.68,1818.39 1644.91,1818.21 1648.14,1818.02 1651.37,1817.84 1654.61,1817.67 1657.84,1817.5 1661.07,1817.34 1664.3,1817.19 1667.53,1817.05 1670.77,1816.91 1674,1816.77 1677.23,1816.63 1680.46,1816.49 1683.7,1816.34 1686.93,1816.19 1690.16,1816.03 1693.39,1815.86 1696.62,1815.68 1699.86,1815.48 1703.09,1815.27 1706.32,1815.07 1709.55,1814.87 1712.79,1814.66 1716.02,1814.44 1719.25,1814.2 1722.48,1813.92 1725.72,1813.61 1728.95,1813.26 1732.18,1812.86 1735.41,1812.4 1738.64,1811.88 1741.88,1811.16 1745.11,1809.79 1748.34,1807.86 1751.57,1805.52 1754.81,1802.92 1758.04,1800.21 1761.27,1797.53 1764.5,1794.75 1767.74,1791.66 1770.97,1788.34 1774.2,1784.85 1777.43,1781.27 1780.66,1777.65 1783.9,1774.08 1787.13,1770.68 1790.36,1767.36 1793.59,1764.04 1796.83,1760.59 1800.06,1756.93 1803.29,1752.94 1806.52,1748.52 1809.76,1743.56 1812.99,1737.61 1816.22,1729.6 1819.45,1720.45 1822.68,1711.24 1825.92,1703.03 1829.15,1695.68 1832.38,1688.64 1835.61,1681.71 1838.85,1674.67 1842.08,1667.33 1845.31,1659.78 1848.54,1652.26 1851.78,1645 1855.01,1638.17 1858.24,1631.53 1861.47,1625.11 1864.7,1619.1 1867.94,1613.66 1871.17,1608.61 1874.4,1603.7 1877.63,1598.96 1880.87,1594.44 1884.1,1590.16 1887.33,1586.16 1890.56,1582.49 1893.79,1579.18 1897.03,1576.27 1900.26,1573.92 1903.49,1572 1906.72,1570.29 1909.96,1568.53 1913.19,1566.48 1916.42,1563.92 1919.65,1560.16 1922.89,1554.21 1926.12,1547.92 1929.35,1543.39 1929.35,1582.16 1926.12,1583.72 1922.89,1585.43 1919.65,1587.32 1916.42,1589.41 1913.19,1591.7 1909.96,1594.2 1906.72,1596.96 1903.49,1600.02 1900.26,1603.46 1897.03,1607.32 1893.79,1611.93 1890.56,1617.57 1887.33,1623.77 1884.1,1630.04 1880.87,1635.93 1877.63,1641.56 1874.4,1647.17 1871.17,1652.96 1867.94,1659.11 1864.7,1665.72 1861.47,1672.7 1858.24,1679.96 1855.01,1687.43 1851.78,1695.12 1848.54,1703.36 1845.31,1711.76 1842.08,1719.89 1838.85,1727.33 1835.61,1734.2 1832.38,1740.72 1829.15,1746.96 1825.92,1752.97 1822.68,1758.85 1819.45,1764.67 1816.22,1770.37 1812.99,1775.87 1809.76,1781.1 1806.52,1785.99 1803.29,1790.48 1800.06,1794.89 1796.83,1799.26 1793.59,1803.41 1790.36,1807.19 1787.13,1810.42 1783.9,1812.94 1780.66,1814.74 1777.43,1816.31 1774.2,1817.72 1770.97,1818.93 1767.74,1819.95 1764.5,1820.74 1761.27,1821.29 1758.04,1821.69 1754.81,1822.04 1751.57,1822.34 1748.34,1822.61 1745.11,1822.83 1741.88,1823.03 1738.64,1823.2 1735.41,1823.36 1732.18,1823.5 1728.95,1823.64 1725.72,1823.76 1722.48,1823.88 1719.25,1823.99 1716.02,1824.09 1712.79,1824.19 1709.55,1824.28 1706.32,1824.37 1703.09,1824.45 1699.86,1824.53 1696.62,1824.6 1693.39,1824.67 1690.16,1824.73 1686.93,1824.8 1683.7,1824.86 1680.46,1824.92 1677.23,1824.99 1674,1825.05 1670.77,1825.1 1667.53,1825.16 1664.3,1825.22 1661.07,1825.27 1657.84,1825.33 1654.61,1825.38 1651.37,1825.43 1648.14,1825.48 1644.91,1825.53 1641.68,1825.57 1638.44,1825.62 1635.21,1825.66 1631.98,1825.7 1628.75,1825.75 1625.51,1825.79 1622.28,1825.82 1619.05,1825.86 1615.82,1825.9 1612.59,1825.93 1609.35,1825.97 1606.12,1826 1602.89,1826.03 1599.66,1826.06 1596.42,1826.09 1593.19,1826.11 1589.96,1826.14 1586.73,1826.16 1583.49,1826.19 1580.26,1826.21 1577.03,1826.24 1573.8,1826.26 1570.57,1826.29 1567.33,1826.31 1564.1,1826.34 1560.87,1826.36 1557.64,1826.39 1554.4,1826.41 1551.17,1826.43 1547.94,1826.46 1544.71,1826.48 1541.48,1826.5 1538.24,1826.52 1535.01,1826.54 1531.78,1826.56 1528.55,1826.58 1525.31,1826.6 1522.08,1826.62 1518.85,1826.64 1515.62,1826.66 1512.38,1826.67 1509.15,1826.69 1505.92,1826.7 1502.69,1826.72 1499.46,1826.73 1496.22,1826.74 1492.99,1826.75 1489.76,1826.76 1486.53,1826.77 1483.29,1826.78 1480.06,1826.78 1476.83,1826.79 1473.6,1826.79 1470.36,1826.8 1467.13,1826.8 1463.9,1826.8" fill="#dccfee"/>
<polygon points="1463.9,1825.42 1467.13,1825.36 1470.36,1825.3 1473.6,1825.24 1476.83,1825.18 1480.06,1825.12 1483.29,1825.06 1486.53,1825.01 1489.76,1824.95 1492.99,1824.9 1496.22,1824.84 1499.46,1824.79 1502.69,1824.73 1505.92,1824.68 1509.15,1824.62 1512.38,1824.57 1515.62,1824.52 1518.85,1824.46 1522.08,1824.41 1525.31,1824.35 1528.55,1824.3 1531.78,1824.24 1535.01,1824.18 1538.24,1824.13 1541.48,1824.07 1544.71,1824.01 1547.94,1823.95 1551.17,1823.89 1554.4,1823.83 1557.64,1823.77 1560.87,1823.7 1564.1,1823.64 1567.33,1823.57 1570.57,1823.5 1573.8,1823.43 1577.03,1823.36 1580.26,1823.29 1583.49,1823.22 1586.73,1823.15 1589.96,1823.07 1593.19,1823 1596.42,1822.92 1599.66,1822.85 1602.89,1822.77 1606.12,1822.69 1609.35,1822.61 1612.59,1822.53 1615.82,1822.45 1619.05,1822.36 1622.28,1822.28 1625.51,1822.2 1628.75,1822.11 1631.98,1822.02 1635.21,1821.94 1638.44,1821.85 1641.68,1821.76 1644.91,1821.67 1648.14,1821.57 1651.37,1821.48 1654.61,1821.39 1657.84,1821.29 1661.07,1821.19 1664.3,1821.09 1667.53,1820.99 1670.77,1820.89 1674,1820.78 1677.23,1820.68 1680.46,1820.56 1683.7,1820.45 1686.93,1820.34 1690.16,1820.22 1693.39,1820.1 1696.62,1819.98 1699.86,1819.86 1703.09,1819.73 1706.32,1819.61 1709.55,1819.48 1712.79,1819.35 1716.02,1819.22 1719.25,1819.08 1722.48,1818.95 1725.72,1818.81 1728.95,1818.67 1732.18,1818.53 1735.41,1818.39 1738.64,1818.24 1741.88,1818.1 1745.11,1817.95 1748.34,1817.8 1751.57,1817.65 1754.81,1817.5 1758.04,1817.35 1761.27,1817.19 1764.5,1817.03 1767.74,1816.87 1770.97,1816.7 1774.2,1816.52 1777.43,1816.35 1780.66,1816.17 1783.9,1815.98 1787.13,1815.8 1790.36,1815.6 1793.59,1815.41 1796.83,1815.21 1800.06,1815.01 1803.29,1814.8 1806.52,1814.59 1809.76,1814.38 1812.99,1814.16 1816.22,1813.94 1819.45,1813.72 1822.68,1813.47 1825.92,1813.21 1829.15,1812.93 1832.38,1812.65 1835.61,1812.38 1838.85,1812.13 1842.08,1811.9 1845.31,1811.68 1848.54,1811.46 1851.78,1811.26 1855.01,1811.05 1858.24,1810.85 1861.47,1810.66 1864.7,1810.46 1867.94,1810.26 1871.17,1810.07 1874.4,1809.87 1877.63,1809.66 1880.87,1809.45 1884.1,1809.24 1887.33,1809.02 1890.56,1808.79 1893.79,1808.56 1897.03,1808.32 1900.26,1808.08 1903.49,1807.84 1906.72,1807.6 1909.96,1807.36 1913.19,1807.12 1916.42,1806.89 1919.65,1806.66 1922.89,1806.43 1926.12,1806.21 1929.35,1806 1929.35,1816.4 1926.12,1816.55 1922.89,1816.71 1919.65,1816.87 1916.42,1817.04 1913.19,1817.22 1909.96,1817.4 1906.72,1817.58 1903.49,1817.76 1900.26,1817.94 1897.03,1818.12 1893.79,1818.29 1890.56,1818.47 1887.33,1818.63 1884.1,1818.79 1880.87,1818.95 1877.63,1819.1 1874.4,1819.24 1871.17,1819.38 1867.94,1819.52 1864.7,1819.65 1861.47,1819.79 1858.24,1819.93 1855.01,1820.07 1851.78,1820.21 1848.54,1820.36 1845.31,1820.51 1842.08,1820.67 1838.85,1820.84 1835.61,1821.03 1832.38,1821.24 1829.15,1821.46 1825.92,1821.68 1822.68,1821.88 1819.45,1822.07 1816.22,1822.23 1812.99,1822.39 1809.76,1822.55 1806.52,1822.7 1803.29,1822.85 1800.06,1823 1796.83,1823.14 1793.59,1823.28 1790.36,1823.41 1787.13,1823.54 1783.9,1823.67 1780.66,1823.79 1777.43,1823.91 1774.2,1824.03 1770.97,1824.14 1767.74,1824.25 1764.5,1824.36 1761.27,1824.46 1758.04,1824.55 1754.81,1824.65 1751.57,1824.74 1748.34,1824.83 1745.11,1824.92 1741.88,1825 1738.64,1825.09 1735.41,1825.17 1732.18,1825.25 1728.95,1825.33 1725.72,1825.41 1722.48,1825.49 1719.25,1825.56 1716.02,1825.64 1712.79,1825.71 1709.55,1825.78 1706.32,1825.85 1703.09,1825.91 1699.86,1825.98 1696.62,1826.04 1693.39,1826.1 1690.16,1826.16 1686.93,1826.22 1683.7,1826.27 1680.46,1826.32 1677.23,1826.37 1674,1826.42 1670.77,1826.47 1667.53,1826.51 1664.3,1826.55 1661.07,1826.59 1657.84,1826.63 1654.61,1826.66 1651.37,1826.7 1648.14,1826.73 1644.91,1826.76 1641.68,1826.79 1638.44,1826.82 1635.21,1826.85 1631.98,1826.88 1628.75,1826.91 1625.51,1826.93 1622.28,1826.96 1619.05,1826.98 1615.82,1827 1612.59,1827.02 1609.35,1827.04 1606.12,1827.06 1602.89,1827.08 1599.66,1827.1 1596.42,1827.12 1593.19,1827.13 1589.96,1827.15 1586.73,1827.16 1583.49,1827.17 1580.26,1827.18 1577.03,1827.19 1573.8,1827.2 1570.57,1827.21 1567.33,1827.22 1564.1,1827.23 1560.87,1827.23 1557.64,1827.23 1554.4,1827.24 1551.17,1827.24 1547.94,1827.24 1544.71,1827.24 1541.48,1827.24 1538.24,1827.23 1535.01,1827.23 1531.78,1827.23 1528.55,1827.22 1525.31,1827.22 1522.08,1827.21 1518.85,1827.21 1515.62,1827.2 1512.38,1827.2 1509.15,1827.19 1505.92,1827.18 1502.69,1827.18 1499.46,1827.17 1496.22,1827.17 1492.99,1827.16 1489.76,1827.16 1486.53,1827.15 1483.29,1827.15 1480.06,1827.14 1476.83,1827.14 1473.6,1827.14 1470.36,1827.14 1467.13,1827.14 1463.9,1827.14" fill="#f6d3e8"/>
<polyline points="1463.9,1824.73 1467.13,1824.73 1470.36,1824.7 1473.6,1824.67 1476.83,1824.61 1480.06,1824.55 1483.29,1824.48 1486.53,1824.39 1489.76,1824.3 1492.99,1824.2 1496.22,1824.09 1499.46,1823.97 1502.69,1823.85 1505.92,1823.72 1509.15,1823.59 1512.38,1823.46 1515.62,1823.33 1518.85,1823.2 1522.08,1823.06 1525.31,1822.93 1528.55,1822.8 1531.78,1822.67 1535.01,1822.55 1538.24,1822.43 1541.48,1822.32 1544.71,1822.22 1547.94,1822.11 1551.17,1822.01 1554.4,1821.9 1557.64,1821.8 1560.87,1821.69 1564.1,1821.58 1567.33,1821.48 1570.57,1821.37 1573.8,1821.27 1577.03,1821.16 1580.26,1821.05 1583.49,1820.94 1586.73,1820.82 1589.96,1820.71 1593.19,1820.59 1596.42,1820.48 1599.66,1820.35 1602.89,1820.23 1606.12,1820.1 1609.35,1819.98 1612.59,1819.84 1615.82,1819.71 1619.05,1819.57 1622.28,1819.42 1625.51,1819.27 1628.75,1819.1 1631.98,1818.93 1635.21,1818.75 1638.44,1818.57 1641.68,1818.39 1644.91,1818.21 1648.14,1818.02 1651.37,1817.84 1654.61,1817.67 1657.84,1817.5 1661.07,1817.34 1664.3,1817.19 1667.53,1817.05 1670.77,1816.91 1674,1816.77 1677.23,1816.63 1680.46,1816.49 1683.7,1816.34 1686.93,1816.19 1690.16,1816.03 1693.39,1815.86 1696.62,1815.68 1699.86,1815.48 1703.09,1815.27 1706.32,1815.07 1709.55,1814.87 1712.79,1814.66 1716.02,1814.44 1719.25,1814.2 1722.48,1813.92 1725.72,1813.61 1728.95,1813.26 1732.18,1812.86 1735.41,1812.4 1738.64,1811.88 1741.88,1811.16 1745.11,1809.79 1748.34,1807.86 1751.57,1805.52 1754.81,1802.92 1758.04,1800.21 1761.27,1797.53 1764.5,1794.75 1767.74,1791.66 1770.97,1788.34 1774.2,1784.85 1777.43,1781.27 1780.66,1777.65 1783.9,1774.08 1787.13,1770.68 1790.36,1767.36 1793.59,1764.04 1796.83,1760.59 1800.06,1756.93 1803.29,1752.94 1806.52,1748.52 1809.76,1743.56 1812.99,1737.61 1816.22,1729.6 1819.45,1720.45 1822.68,1711.24 1825.92,1703.03 1829.15,1695.68 1832.38,1688.64 1835.61,1681.71 1838.85,1674.67 1842.08,1667.33 1845.31,1659.78 1848.54,1652.26 1851.78,1645 1855.01,1638.17 1858.24,1631.53 1861.47,1625.11 1864.7,1619.1 1867.94,1613.66 1871.17,1608.61 1874.4,1603.7 1877.63,1598.96 1880.87,1594.44 1884.1,1590.16 1887.33,1586.16 1890.56,1582.49 1893.79,1579.18 1897.03,1576.27 1900.26,1573.92 1903.49,1572 1906.72,1570.29 1909.96,1568.53 1913.19,1566.48 1916.42,1563.92 1919.65,1560.16 1922.89,1554.21 1926.12,1547.92 1929.35,1543.39" fill="none" stroke="#4f1d96" stroke-width="3" stroke-linejoin="round" stroke-dasharray="12,6"/>
<polyline points="1463.9,1826.8 1467.13,1826.8 1470.36,1826.8 1473.6,1826.79 1476.83,1826.79 1480.06,1826.78 1483.29,1826.78 1486.53,1826.77 1489.76,1826.76 1492.99,1826.75 1496.22,1826.74 1499.46,1826.73 1502.69,1826.72 1505.92,1826.7 1509.15,1826.69 1512.38,1826.67 1515.62,1826.66 1518.85,1826.64 1522.08,1826.62 1525.31,1826.6 1528.55,1826.58 1531.78,1826.56 1535.01,1826.54 1538.24,1826.52 1541.48,1826.5 1544.71,1826.48 1547.94,1826.46 1551.17,1826.43 1554.4,1826.41 1557.64,1826.39 1560.87,1826.36 1564.1,1826.34 1567.33,1826.31 1570.57,1826.29 1573.8,1826.26 1577.03,1826.24 1580.26,1826.21 1583.49,1826.19 1586.73,1826.16 1589.96,1826.14 1593.19,1826.11 1596.42,1826.09 1599.66,1826.06 1602.89,1826.03 1606.12,1826 1609.35,1825.97 1612.59,1825.93 1615.82,1825.9 1619.05,1825.86 1622.28,1825.82 1625.51,1825.79 1628.75,1825.75 1631.98,1825.7 1635.21,1825.66 1638.44,1825.62 1641.68,1825.57 1644.91,1825.53 1648.14,1825.48 1651.37,1825.43 1654.61,1825.38 1657.84,1825.33 1661.07,1825.27 1664.3,1825.22 1667.53,1825.16 1670.77,1825.1 1674,1825.05 1677.23,1824.99 1680.46,1824.92 1683.7,1824.86 1686.93,1824.8 1690.16,1824.73 1693.39,1824.67 1696.62,1824.6 1699.86,1824.53 1703.09,1824.45 1706.32,1824.37 1709.55,1824.28 1712.79,1824.19 1716.02,1824.09 1719.25,1823.99 1722.48,1823.88 1725.72,1823.76 1728.95,1823.64 1732.18,1823.5 1735.41,1823.36 1738.64,1823.2 1741.88,1823.03 1745.11,1822.83 1748.34,1822.61 1751.57,1822.34 1754.81,1822.04 1758.04,1821.69 1761.27,1821.29 1764.5,1820.74 1767.74,1819.95 1770.97,1818.93 1774.2,1817.72 1777.43,1816.31 1780.66,1814.74 1783.9,1812.94 1787.13,1810.42 1790.36,1807.19 1793.59,1803.41 1796.83,1799.26 1800.06,1794.89 1803.29,1790.48 1806.52,1785.99 1809.76,1781.1 1812.99,1775.87 1816.22,1770.37 1819.45,1764.67 1822.68,1758.85 1825.92,1752.97 1829.15,1746.96 1832.38,1740.72 1835.61,1734.2 1838.85,1727.33 1842.08,1719.89 1845.31,1711.76 1848.54,1703.36 1851.78,1695.12 1855.01,1687.43 1858.24,1679.96 1861.47,1672.7 1864.7,1665.72 1867.94,1659.11 1871.17,1652.96 1874.4,1647.17 1877.63,1641.56 1880.87,1635.93 1884.1,1630.04 1887.33,1623.77 1890.56,1617.57 1893.79,1611.93 1897.03,1607.32 1900.26,1603.46 1903.49,1600.02 1906.72,1596.96 1909.96,1594.2 1913.19,1591.7 1916.42,1589.41 1919.65,1587.32 1922.89,1585.43 1926.12,1583.72 1929.35,1582.16" fill="none" stroke="#4f1d96" stroke-width="3" stroke-linejoin="round" stroke-dasharray="12,6"/>
<polyline points="1463.9,1825.42 1467.13,1825.36 1470.36,1825.3 1473.6,1825.24 1476.83,1825.18 1480.06,1825.12 1483.29,1825.06 1486.53,1825.01 1489.76,1824.95 1492.99,1824.9 1496.22,1824.84 1499.46,1824.79 1502.69,1824.73 1505.92,1824.68 1509.15,1824.62 1512.38,1824.57 1515.62,1824.52 1518.85,1824.46 1522.08,1824.41 1525.31,1824.35 1528.55,1824.3 1531.78,1824.24 1535.01,1824.18 1538.24,1824.13 1541.48,1824.07 1544.71,1824.01 1547.94,1823.95 1551.17,1823.89 1554.4,1823.83 1557.64,1823.77 1560.87,1823.7 1564.1,1823.64 1567.33,1823.57 1570.57,1823.5 1573.8,1823.43 1577.03,1823.36 1580.26,1823.29 1583.49,1823.22 1586.73,1823.15 1589.96,1823.07 1593.19,1823 1596.42,1822.92 1599.66,1822.85 1602.89,1822.77 1606.12,1822.69 1609.35,1822.61 1612.59,1822.53 1615.82,1822.45 1619.05,1822.36 1622.28,1822.28 1625.51,1822.2 1628.75,1822.11 1631.98,1822.02 1635.21,1821.94 1638.44,1821.85 1641.68,1821.76 1644.91,1821.67 1648.14,1821.57 1651.37,1821.48 1654.61,1821.39 1657.84,1821.29 1661.07,1821.19 1664.3,1821.09 1667.53,1820.99 1670.77,1820.89 1674,1820.78 1677.23,1820.68 1680.46,1820.56 1683.7,1820.45 1686.93,1820.34 1690.16,1820.22 1693.39,1820.1 1696.62,1819.98 1699.86,1819.86 1703.09,1819.73 1706.32,1819.61 1709.55,1819.48 1712.79,1819.35 1716.02,1819.22 1719.25,1819.08 1722.48,1818.95 1725.72,1818.81 1728.95,1818.67 1732.18,1818.53 1735.41,1818.39 1738.64,1818.24 1741.88,1818.1 1745.11,1817.95 1748.34,1817.8 1751.57,1817.65 1754.81,1817.5 1758.04,1817.35 1761.27,1817.19 1764.5,1817.03 1767.74,1816.87 1770.97,1816.7 1774.2,1816.52 1777.43,1816.35 1780.66,1816.17 1783.9,1815.98 1787.13,1815.8 1790.36,1815.6 1793.59,1815.41 1796.83,1815.21 1800.06,1815.01 1803.29,1814.8 1806.52,1814.59 1809.76,1814.38 1812.99,1814.16 1816.22,1813.94 1819.45,1813.72 1822.68,1813.47 1825.92,1813.21 1829.15,1812.93 1832.38,1812.65 1835.61,1812.38 1838.85,1812.13 1842.08,1811.9 1845.31,1811.68 1848.54,1811.46 1851.78,1811.26 1855.01,1811.05 1858.24,1810.85 1861.47,1810.66 1864.7,1810.46 1867.94,1810.26 1871.17,1810.07 1874.4,1809.87 1877.63,1809.66 1880.87,1809.45 1884.1,1809.24 1887.33,1809.02 1890.56,1808.79 1893.79,1808.56 1897.03,1808.32 1900.26,1808.08 1903.49,1807.84 1906.72,1807.6 1909.96,1807.36 1913.19,1807.12 1916.42,1806.89 1919.65,1806.66 1922.89,1806.43 1926.12,1806.21 1929.35,1806" fill="none" stroke="#ea9bcb" stroke-width="3" stroke-linejoin="round" stroke-dasharray="12,6"/>
<polyline points="1463.9,1827.14 1467.13,1827.14 1470.36,1827.14 1473.6,1827.14 1476.83,1827.14 1480.06,1827.14 1483.29,1827.15 1486.53,1827.15 1489.76,1827.16 1492.99,1827.16 1496.22,1827.17 1499.46,1827.17 1502.69,1827.18 1505.92,1827.18 1509.15,1827.19 1512.38,1827.2 1515.62,1827.2 1518.85,1827.21 1522.08,1827.21 1525.31,1827.22 1528.55,1827.22 1531.78,1827.23 1535.01,1827.23 1538.24,1827.23 1541.48,1827.24 1544.71,1827.24 1547.94,1827.24 1551.17,1827.24 1554.4,1827.24 1557.64,1827.23 1560.87,1827.23 1564.1,1827.23 1567.33,1827.22 1570.57,1827.21 1573.8,1827.2 1577.03,1827.19 1580.26,1827.18 1583.49,1827.17 1586.73,1827.16 1589.96,1827.15 1593.19,1827.13 1596.42,1827.12 1599.66,1827.1 1602.89,1827.08 1606.12,1827.06 1609.35,1827.04 1612.59,1827.02 1615.82,1827 1619.05,1826.98 1622.28,1826.96 1625.51,1826.93 1628.75,1826.91 1631.98,1826.88 1635.21,1826.85 1638.44,1826.82 1641.68,1826.79 1644.91,1826.76 1648.14,1826.73 1651.37,1826.7 1654.61,1826.66 1657.84,1826.63 1661.07,1826.59 1664.3,1826.55 1667.53,1826.51 1670.77,1826.47 1674,1826.42 1677.23,1826.37 1680.46,1826.32 1683.7,1826.27 1686.93,1826.22 1690.16,1826.16 1693.39,1826.1 1696.62,1826.04 1699.86,1825.98 1703.09,1825.91 1706.32,1825.85 1709.55,1825.78 1712.79,1825.71 1716.02,1825.64 1719.25,1825.56 1722.48,1825.49 1725.72,1825.41 1728.95,1825.33 1732.18,1825.25 1735.41,1825.17 1738.64,1825.09 1741.88,1825 1745.11,1824.92 1748.34,1824.83 1751.57,1824.74 1754.81,1824.65 1758.04,1824.55 1761.27,1824.46 1764.5,1824.36 1767.74,1824.25 1770.97,1824.14 1774.2,1824.03 1777.43,1823.91 1780.66,1823.79 1783.9,1823.67 1787.13,1823.54 1790.36,1823.41 1793.59,1823.28 1796.83,1823.14 1800.06,1823 1803.29,1822.85 1806.52,1822.7 1809.76,1822.55 1812.99,1822.39 1816.22,1822.23 1819.45,1822.07 1822.68,1821.88 1825.92,1821.68 1829.15,1821.46 1832.38,1821.24 1835.61,1821.03 1838.85,1820.84 1842.08,1820.67 1845.31,1820.51 1848.54,1820.36 1851.78,1820.21 1855.01,1820.07 1858.24,1819.93 1861.47,1819.79 1864.7,1819.65 1867.94,1819.52 1871.17,1819.38 1874.4,1819.24 1877.63,1819.1 1880.87,1818.95 1884.1,1818.79 1887.33,1818.63 1890.56,1818.47 1893.79,1818.29 1897.03,1818.12 1900.26,1817.94 1903.49,1817.76 1906.72,1817.58 1909.96,1817.4 1913.19,1817.22 1916.42,1817.04 1919.65,1816.87 1922.89,1816.71 1926.12,1816.55 1929.35,1816.4" fill="none" stroke="#ea9bcb" stroke-width="3" stroke-linejoin="round" stroke-dasharray="12,6"/>
<polyline points="1463.9,1826.46 1467.13,1826.42 1470.36,1826.39 1473.6,1826.36 1476.83,1826.33 1480.06,1826.3 1483.29,1826.27 1486.53,1826.24 1489.76,1826.21 1492.99,1826.18 1496.22,1826.15 1499.46,1826.12 1502.69,1826.08 1505.92,1826.05 1509.15,1826.02 1512.38,1825.98 1515.62,1825.94 1518.85,1825.9 1522.08,1825.86 1525.31,1825.81 1528.55,1825.77 1531.78,1825.71 1535.01,1825.66 1538.24,1825.59 1541.48,1825.52 1544.71,1825.44 1547.94,1825.36 1551.17,1825.28 1554.4,1825.19 1557.64,1825.1 1560.87,1825.01 1564.1,1824.91 1567.33,1824.82 1570.57,1824.72 1573.8,1824.62 1577.03,1824.52 1580.26,1824.42 1583.49,1824.33 1586.73,1824.23 1589.96,1824.14 1593.19,1824.05 1596.42,1823.96 1599.66,1823.86 1602.89,1823.77 1606.12,1823.68 1609.35,1823.59 1612.59,1823.5 1615.82,1823.41 1619.05,1823.31 1622.28,1823.22 1625.51,1823.12 1628.75,1823.03 1631.98,1822.93 1635.21,1822.83 1638.44,1822.73 1641.68,1822.63 1644.91,1822.53 1648.14,1822.42 1651.37,1822.32 1654.61,1822.22 1657.84,1822.12 1661.07,1822.01 1664.3,1821.91 1667.53,1821.8 1670.77,1821.69 1674,1821.57 1677.23,1821.46 1680.46,1821.34 1683.7,1821.21 1686.93,1821.08 1690.16,1820.95 1693.39,1820.81 1696.62,1820.68 1699.86,1820.55 1703.09,1820.42 1706.32,1820.27 1709.55,1820.11 1712.79,1819.93 1716.02,1819.73 1719.25,1819.49 1722.48,1819.22 1725.72,1818.83 1728.95,1818.27 1732.18,1817.58 1735.41,1816.83 1738.64,1816.07 1741.88,1815.35 1745.11,1814.64 1748.34,1813.91 1751.57,1813.14 1754.81,1812.29 1758.04,1811.35 1761.27,1810.27 1764.5,1809.03 1767.74,1807.59 1770.97,1805.95 1774.2,1804.09 1777.43,1802.02 1780.66,1799.71 1783.9,1797.14 1787.13,1793.97 1790.36,1790.21 1793.59,1785.95 1796.83,1781.27 1800.06,1776.28 1803.29,1771.05 1806.52,1765.4 1809.76,1758.9 1812.99,1751.84 1816.22,1744.47 1819.45,1737.03 1822.68,1729.19 1825.92,1721.02 1829.15,1712.74 1832.38,1704.56 1835.61,1696.41 1838.85,1688.19 1842.08,1680.06 1845.31,1672.15 1848.54,1664.57 1851.78,1657.14 1855.01,1649.93 1858.24,1643.01 1861.47,1636.48 1864.7,1630.14 1867.94,1624.01 1871.17,1618.3 1874.4,1613.21 1877.63,1608.69 1880.87,1604.39 1884.1,1600.33 1887.33,1596.57 1890.56,1593.18 1893.79,1590.21 1897.03,1587.72 1900.26,1585.73 1903.49,1584.09 1906.72,1582.65 1909.96,1581.22 1913.19,1579.63 1916.42,1577.71 1919.65,1575.13 1922.89,1571.53 1926.12,1567.82 1929.35,1564.98" fill="none" stroke="#4f1d96" stroke-width="2.8" stroke-linejoin="round"/>
<polyline points="1463.9,1826.46 1467.13,1826.43 1470.36,1826.4 1473.6,1826.38 1476.83,1826.35 1480.06,1826.33 1483.29,1826.3 1486.53,1826.28 1489.76,1826.26 1492.99,1826.24 1496.22,1826.22 1499.46,1826.2 1502.69,1826.18 1505.92,1826.16 1509.15,1826.14 1512.38,1826.12 1515.62,1826.1 1518.85,1826.08 1522.08,1826.06 1525.31,1826.04 1528.55,1826.02 1531.78,1826 1535.01,1825.97 1538.24,1825.95 1541.48,1825.93 1544.71,1825.9 1547.94,1825.88 1551.17,1825.85 1554.4,1825.83 1557.64,1825.8 1560.87,1825.77 1564.1,1825.74 1567.33,1825.7 1570.57,1825.67 1573.8,1825.64 1577.03,1825.6 1580.26,1825.56 1583.49,1825.53 1586.73,1825.49 1589.96,1825.45 1593.19,1825.41 1596.42,1825.37 1599.66,1825.33 1602.89,1825.28 1606.12,1825.24 1609.35,1825.19 1612.59,1825.15 1615.82,1825.1 1619.05,1825.05 1622.28,1825 1625.51,1824.95 1628.75,1824.9 1631.98,1824.85 1635.21,1824.79 1638.44,1824.74 1641.68,1824.68 1644.91,1824.63 1648.14,1824.57 1651.37,1824.51 1654.61,1824.45 1657.84,1824.39 1661.07,1824.33 1664.3,1824.26 1667.53,1824.2 1670.77,1824.13 1674,1824.05 1677.23,1823.98 1680.46,1823.9 1683.7,1823.83 1686.93,1823.75 1690.16,1823.66 1693.39,1823.58 1696.62,1823.49 1699.86,1823.41 1703.09,1823.31 1706.32,1823.22 1709.55,1823.13 1712.79,1823.03 1716.02,1822.94 1719.25,1822.84 1722.48,1822.73 1725.72,1822.63 1728.95,1822.53 1732.18,1822.42 1735.41,1822.31 1738.64,1822.2 1741.88,1822.09 1745.11,1821.98 1748.34,1821.87 1751.57,1821.75 1754.81,1821.63 1758.04,1821.52 1761.27,1821.39 1764.5,1821.27 1767.74,1821.14 1770.97,1821 1774.2,1820.86 1777.43,1820.72 1780.66,1820.57 1783.9,1820.42 1787.13,1820.27 1790.36,1820.11 1793.59,1819.95 1796.83,1819.79 1800.06,1819.62 1803.29,1819.45 1806.52,1819.27 1809.76,1819.09 1812.99,1818.91 1816.22,1818.73 1819.45,1818.54 1822.68,1818.33 1825.92,1818.1 1829.15,1817.85 1832.38,1817.61 1835.61,1817.37 1838.85,1817.16 1842.08,1816.96 1845.31,1816.78 1848.54,1816.6 1851.78,1816.42 1855.01,1816.25 1858.24,1816.09 1861.47,1815.92 1864.7,1815.76 1867.94,1815.6 1871.17,1815.44 1874.4,1815.27 1877.63,1815.1 1880.87,1814.93 1884.1,1814.75 1887.33,1814.56 1890.56,1814.37 1893.79,1814.17 1897.03,1813.97 1900.26,1813.76 1903.49,1813.56 1906.72,1813.35 1909.96,1813.14 1913.19,1812.94 1916.42,1812.74 1919.65,1812.54 1922.89,1812.35 1926.12,1812.17 1929.35,1811.99" fill="none" stroke="#ea9bcb" stroke-width="2.8" stroke-linejoin="round"/>
</g>
<rect x="1463.9" y="1516.8" width="465.5" height="310" fill="none" stroke="#000" stroke-width="3.8"/>
<line x1="1463.9" y1="1723.5" x2="1474.5" y2="1723.5" stroke="#000" stroke-width="3.6"/>
<line x1="1463.9" y1="1620.2" x2="1474.5" y2="1620.2" stroke="#000" stroke-width="3.6"/>
<line x1="1619.05" y1="1826.8" x2="1619.05" y2="1818" stroke="#000" stroke-width="3.4"/>
<line x1="1774.2" y1="1826.8" x2="1774.2" y2="1818" stroke="#000" stroke-width="3.4"/>
<text x="1450" y="1837.1" text-anchor="end">0</text>
<text x="1450" y="1733.8" text-anchor="end">300</text>
<text x="1450" y="1630.5" text-anchor="end">600</text>
<text x="1450" y="1527.2" text-anchor="end">900</text>
<text x="1463.9" y="1861.2" text-anchor="middle">0</text>
<text x="1619.05" y="1861.2" text-anchor="middle">24</text>
<text x="1774.2" y="1861.2" text-anchor="middle">48</text>
<text x="1929.35" y="1861.2" text-anchor="middle">72</text>
<text x="1696.6" y="1906.3" font-size="32.5" text-anchor="middle">Time/h</text>
<text x="1385" y="1672" text-anchor="middle" transform="rotate(-90 1385 1672)">Apoptotic cell counts/area</text>
<line x1="1566.8" y1="1547.9" x2="1646.3" y2="1547.9" stroke="#4f1d96" stroke-width="3" stroke-linecap="round"/>
<line x1="1566.8" y1="1586.8" x2="1646.3" y2="1586.8" stroke="#ea9bcb" stroke-width="3" stroke-linecap="round"/>
<text x="1657.6" y="1557.3">CAY</text>
<text x="1657.6" y="1596.3">CT</text>
<text x="-0.4" y="2012.9" font-size="42" font-weight="bold">i</text>
<line x1="154.3" y1="2062.9" x2="154.3" y2="2388.1" stroke="#000" stroke-width="3.8"/>
<line x1="152.4" y1="2386.2" x2="164.3" y2="2386.2" stroke="#000" stroke-width="3.8"/>
<text x="140.8" y="2396.4" font-size="27.7" text-anchor="end">0%</text>
<line x1="152.4" y1="2305.85" x2="164.3" y2="2305.85" stroke="#000" stroke-width="3.8"/>
<text x="140.8" y="2316.05" font-size="27.7" text-anchor="end">30%</text>
<line x1="152.4" y1="2225.5" x2="164.3" y2="2225.5" stroke="#000" stroke-width="3.8"/>
<text x="140.8" y="2235.7" font-size="27.7" text-anchor="end">60%</text>
<line x1="152.4" y1="2145.15" x2="164.3" y2="2145.15" stroke="#000" stroke-width="3.8"/>
<text x="140.8" y="2155.35" font-size="27.7" text-anchor="end">90%</text>
<line x1="152.4" y1="2064.8" x2="164.3" y2="2064.8" stroke="#000" stroke-width="3.8"/>
<text x="140.8" y="2075" font-size="27.7" text-anchor="end">120%</text>
<line x1="152.4" y1="2386.2" x2="476.3" y2="2386.2" stroke="#000" stroke-width="3.8"/>
<line x1="194.5" y1="2386.2" x2="194.5" y2="2376.5" stroke="#000" stroke-width="3.4"/>
<text x="194.5" y="2419.8" text-anchor="middle">0</text>
<line x1="274.6" y1="2386.2" x2="274.6" y2="2376.5" stroke="#000" stroke-width="3.4"/>
<text x="274.6" y="2419.8" text-anchor="middle">1</text>
<line x1="355.3" y1="2386.2" x2="355.3" y2="2376.5" stroke="#000" stroke-width="3.4"/>
<text x="355.3" y="2419.8" text-anchor="middle">2</text>
<line x1="436.1" y1="2386.2" x2="436.1" y2="2376.5" stroke="#000" stroke-width="3.4"/>
<text x="436.1" y="2419.8" text-anchor="middle">3</text>
<text x="326.3" y="2456" text-anchor="middle">Days</text>
<text x="307.9" y="2076" text-anchor="middle">1 <tspan font-family="Liberation Serif">μ</tspan>M CAY</text>
<polyline points="194.5,2118.5 274.6,2127.4 355.3,2244.1 436.1,2300.5" fill="none" stroke="#000" stroke-width="3" stroke-linejoin="round"/>
<path d="M274.6,2123.8V2131.4M266.4,2131.4H282.8M266.4,2123.8H282.8" stroke="#000" stroke-width="2.6" fill="none"/>
<path d="M355.3,2234.6V2253.4M347.1,2253.4H363.5M347.1,2234.6H363.5" stroke="#000" stroke-width="2.6" fill="none"/>
<path d="M436.1,2298.5V2302.8M427.9,2302.8H444.3M427.9,2298.5H444.3" stroke="#000" stroke-width="2.6" fill="none"/>
<text x="44" y="2228.6" text-anchor="middle" transform="rotate(-90 44 2228.6)">Relative viability</text>
<text x="578" y="2014.2" font-size="42" font-weight="bold">j</text>
<g clip-path="url(#cj)">
<path d="M700.8,2378.78V2388.32M694.3,2378.78H707.3M694.3,2388.32H707.3M713.64,2376.93V2386.47M707.14,2376.93H720.14M707.14,2386.47H720.14M728.62,2374.54V2384.08M722.12,2374.54H735.12M722.12,2384.08H735.12M747.88,2371.1V2380.64M741.38,2371.1H754.38M741.38,2380.64H754.38M765,2359.97V2369.51M758.5,2359.97H771.5M758.5,2369.51H771.5M779.98,2327.11V2336.65M773.48,2327.11H786.48M773.48,2336.65H786.48M797.1,2258.47V2268.01M790.6,2258.47H803.6M790.6,2268.01H803.6M807.8,2162.54V2172.08M801.3,2162.54H814.3M801.3,2172.08H814.3M827.06,2112.72V2122.26M820.56,2112.72H833.56M820.56,2122.26H833.56M847.6,2093.91V2103.45M841.1,2093.91H854.1M841.1,2103.45H854.1M865.58,2126.5V2136.04M859.08,2126.5H872.08M859.08,2136.04H872.08M878.42,2133.39V2142.93M871.92,2133.39H884.92M871.92,2142.93H884.92M898.96,2103.98V2113.52M892.46,2103.98H905.46M892.46,2113.52H905.46M915.87,2114.32V2123.86M909.37,2114.32H922.37M909.37,2123.86H922.37M934.7,2136.84V2146.38M928.2,2136.84H941.2M928.2,2146.38H941.2M946.9,2124.65V2134.19M940.4,2124.65H953.4M940.4,2134.19H953.4M965.52,2122V2131.54M959.02,2122H972.02M959.02,2131.54H972.02M980.07,2109.28V2118.82M973.57,2109.28H986.57M973.57,2118.82H986.57M1003.18,2116.17V2125.71M996.68,2116.17H1009.68M996.68,2125.71H1009.68M1010.67,2165.99V2175.53M1004.17,2165.99H1017.17M1004.17,2175.53H1017.17M1030.57,2222.7V2232.24M1024.07,2222.7H1037.07M1024.07,2232.24H1037.07M1047.69,2261.92V2271.46M1041.19,2261.92H1054.19M1041.19,2271.46H1054.19M1065.03,2282.59V2292.13M1058.53,2282.59H1071.53M1058.53,2292.13H1071.53M1082.15,2317.04V2326.58M1075.65,2317.04H1088.65M1075.65,2326.58H1088.65M1099.27,2339.3V2348.84M1092.77,2339.3H1105.77M1092.77,2348.84H1105.77M1119.81,2353.08V2362.62M1113.31,2353.08H1126.31M1113.31,2362.62H1126.31M1133.51,2362.62V2372.16M1127.01,2362.62H1140.01M1127.01,2372.16H1140.01M1152.55,2362.62V2372.16M1146.05,2362.62H1159.05M1146.05,2372.16H1159.05M1169.67,2369.51V2379.05M1163.17,2369.51H1176.17M1163.17,2379.05H1176.17M1186.79,2382.23V2391.77M1180.29,2382.23H1193.29M1180.29,2391.77H1193.29M1203.91,2388.32V2397.86M1197.41,2388.32H1210.41M1197.41,2397.86H1210.41M1222.75,2395.21V2404.75M1216.25,2395.21H1229.25M1216.25,2404.75H1229.25M1236.44,2396.8V2406.34M1229.94,2396.8H1242.94M1229.94,2406.34H1242.94" stroke="#551b9a" stroke-width="2.2" fill="none"/>
<polyline points="700.8,2383.55 713.64,2381.7 728.62,2379.31 747.88,2375.87 765,2364.74 779.98,2331.88 797.1,2263.24 807.8,2167.31 827.06,2117.49 847.6,2098.68 865.58,2131.27 878.42,2138.16 898.96,2108.75 915.87,2119.09 934.7,2141.61 946.9,2129.42 965.52,2126.77 980.07,2114.05 1003.18,2120.94 1010.67,2170.76 1030.57,2227.47 1047.69,2266.69 1065.03,2287.36 1082.15,2321.81 1099.27,2344.07 1119.81,2357.85 1133.51,2367.39 1152.55,2367.39 1169.67,2374.28 1186.79,2387 1203.91,2393.09 1222.75,2399.98 1236.44,2401.57" fill="none" stroke="#551b9a" stroke-width="3.4" stroke-linejoin="round"/>
<path d="M700.8,2383.82V2393.36M694.3,2383.82H707.3M694.3,2393.36H707.3M713.64,2379.58V2389.12M707.14,2379.58H720.14M707.14,2389.12H720.14M728.62,2374.54V2384.08M722.12,2374.54H735.12M722.12,2384.08H735.12M747.88,2367.65V2377.19M741.38,2367.65H754.38M741.38,2377.19H754.38M765,2356.52V2366.06M758.5,2356.52H771.5M758.5,2366.06H771.5M779.98,2330.55V2340.09M773.48,2330.55H786.48M773.48,2340.09H786.48M797.1,2275.7V2285.24M790.6,2275.7H803.6M790.6,2285.24H803.6M807.8,2189.84V2199.38M801.3,2189.84H814.3M801.3,2199.38H814.3M827.06,2142.67V2152.21M820.56,2142.67H833.56M820.56,2152.21H833.56M847.6,2149.56V2159.1M841.1,2149.56H854.1M841.1,2159.1H854.1M865.58,2150.36V2159.89M859.08,2150.36H872.08M859.08,2159.89H872.08M878.42,2153V2162.54M871.92,2153H884.92M871.92,2162.54H884.92M898.96,2153.8V2163.34M892.46,2153.8H905.46M892.46,2163.34H905.46M915.87,2153.8V2163.34M909.37,2153.8H922.37M909.37,2163.34H922.37M934.7,2136.84V2146.38M928.2,2136.84H941.2M928.2,2146.38H941.2M946.9,2128.89V2138.43M940.4,2128.89H953.4M940.4,2138.43H953.4M965.52,2138.43V2147.97M959.02,2138.43H972.02M959.02,2147.97H972.02M980.07,2135.78V2145.32M973.57,2135.78H986.57M973.57,2145.32H986.57M1003.18,2134.98V2144.52M996.68,2134.98H1009.68M996.68,2144.52H1009.68M1010.67,2169.43V2178.97M1004.17,2169.43H1017.17M1004.17,2178.97H1017.17M1030.57,2220.84V2230.38M1024.07,2220.84H1037.07M1024.07,2230.38H1037.07M1047.69,2258.74V2268.28M1041.19,2258.74H1054.19M1041.19,2268.28H1054.19M1065.03,2279.14V2288.68M1058.53,2279.14H1071.53M1058.53,2288.68H1071.53M1082.15,2310.15V2319.69M1075.65,2310.15H1088.65M1075.65,2319.69H1088.65M1099.27,2332.41V2341.95M1092.77,2332.41H1105.77M1092.77,2341.95H1105.77M1119.81,2349.63V2359.17M1113.31,2349.63H1126.31M1113.31,2359.17H1126.31M1133.51,2358.11V2367.65M1127.01,2358.11H1140.01M1127.01,2367.65H1140.01M1152.55,2356.52V2366.06M1146.05,2356.52H1159.05M1146.05,2366.06H1159.05M1169.67,2349.63V2359.17M1163.17,2349.63H1176.17M1163.17,2359.17H1176.17M1186.79,2365V2374.54M1180.29,2365H1193.29M1180.29,2374.54H1193.29M1203.91,2380.64V2390.18M1197.41,2380.64H1210.41M1197.41,2390.18H1210.41M1222.75,2392.57V2402.11M1216.25,2392.57H1229.25M1216.25,2402.11H1229.25M1236.44,2395.21V2404.75M1229.94,2395.21H1242.94M1229.94,2404.75H1242.94" stroke="#9438f5" stroke-width="2.2" fill="none"/>
<polyline points="700.8,2388.59 713.64,2384.35 728.62,2379.31 747.88,2372.42 765,2361.29 779.98,2335.32 797.1,2280.47 807.8,2194.61 827.06,2147.44 847.6,2154.33 865.58,2155.12 878.42,2157.77 898.96,2158.57 915.87,2158.57 934.7,2141.61 946.9,2133.66 965.52,2143.2 980.07,2140.55 1003.18,2139.75 1010.67,2174.2 1030.57,2225.61 1047.69,2263.51 1065.03,2283.91 1082.15,2314.92 1099.27,2337.18 1119.81,2354.4 1133.51,2362.88 1152.55,2361.29 1169.67,2354.4 1186.79,2369.77 1203.91,2385.41 1222.75,2397.34 1236.44,2399.98" fill="none" stroke="#9438f5" stroke-width="3.4" stroke-linejoin="round"/>
<path d="M700.8,2380.38V2389.91M694.3,2380.38H707.3M694.3,2389.91H707.3M713.64,2376.93V2386.47M707.14,2376.93H720.14M707.14,2386.47H720.14M728.62,2371.89V2381.43M722.12,2371.89H735.12M722.12,2381.43H735.12M747.88,2365V2374.54M741.38,2365H754.38M741.38,2374.54H754.38M765,2351.22V2360.76M758.5,2351.22H771.5M758.5,2360.76H771.5M779.98,2327.11V2336.65M773.48,2327.11H786.48M773.48,2336.65H786.48M797.1,2279.14V2288.68M790.6,2279.14H803.6M790.6,2288.68H803.6M807.8,2181.36V2190.9M801.3,2181.36H814.3M801.3,2190.9H814.3M827.06,2145.32V2154.86M820.56,2145.32H833.56M820.56,2154.86H833.56M847.6,2145.32V2154.86M841.1,2145.32H854.1M841.1,2154.86H854.1M865.58,2146.91V2156.45M859.08,2146.91H872.08M859.08,2156.45H872.08M878.42,2148.76V2158.3M871.92,2148.76H884.92M871.92,2158.3H884.92M898.96,2150.36V2159.89M892.46,2150.36H905.46M892.46,2159.89H905.46M915.87,2142.67V2152.21M909.37,2142.67H922.37M909.37,2152.21H922.37M934.7,2137.63V2147.17M928.2,2137.63H941.2M928.2,2147.17H941.2M946.9,2138.43V2147.97M940.4,2138.43H953.4M940.4,2147.97H953.4M965.52,2145.32V2154.86M959.02,2145.32H972.02M959.02,2154.86H972.02M980.07,2145.32V2154.86M973.57,2145.32H986.57M973.57,2154.86H986.57M1003.18,2145.32V2154.86M996.68,2145.32H1009.68M996.68,2154.86H1009.68M1010.67,2165.99V2175.53M1004.17,2165.99H1017.17M1004.17,2175.53H1017.17M1030.57,2217.4V2226.94M1024.07,2217.4H1037.07M1024.07,2226.94H1037.07M1047.69,2256.88V2266.42M1041.19,2256.88H1054.19M1041.19,2266.42H1054.19M1065.03,2275.96V2285.5M1058.53,2275.96H1071.53M1058.53,2285.5H1071.53M1082.15,2303.26V2312.8M1075.65,2303.26H1088.65M1075.65,2312.8H1088.65M1099.27,2327.38V2336.91M1092.77,2327.38H1105.77M1092.77,2336.91H1105.77M1119.81,2346.19V2355.73M1113.31,2346.19H1126.31M1113.31,2355.73H1126.31M1133.51,2354.93V2364.47M1127.01,2354.93H1140.01M1127.01,2364.47H1140.01M1152.55,2353.08V2362.62M1146.05,2353.08H1159.05M1146.05,2362.62H1159.05M1169.67,2344.6V2354.14M1163.17,2344.6H1176.17M1163.17,2354.14H1176.17M1186.79,2359.97V2369.51M1180.29,2359.97H1193.29M1180.29,2369.51H1193.29M1203.91,2378.78V2388.32M1197.41,2378.78H1210.41M1197.41,2388.32H1210.41M1222.75,2390.71V2400.25M1216.25,2390.71H1229.25M1216.25,2400.25H1229.25M1236.44,2394.42V2403.96M1229.94,2394.42H1242.94M1229.94,2403.96H1242.94" stroke="#df95f2" stroke-width="2.2" fill="none"/>
<polyline points="700.8,2385.14 713.64,2381.7 728.62,2376.66 747.88,2369.77 765,2355.99 779.98,2331.88 797.1,2283.91 807.8,2186.13 827.06,2150.09 847.6,2150.09 865.58,2151.68 878.42,2153.53 898.96,2155.12 915.87,2147.44 934.7,2142.4 946.9,2143.2 965.52,2150.09 980.07,2150.09 1003.18,2150.09 1010.67,2170.76 1030.57,2222.17 1047.69,2261.65 1065.03,2280.73 1082.15,2308.03 1099.27,2332.14 1119.81,2350.96 1133.51,2359.7 1152.55,2357.85 1169.67,2349.37 1186.79,2364.74 1203.91,2383.55 1222.75,2395.48 1236.44,2399.19" fill="none" stroke="#df95f2" stroke-width="3.4" stroke-linejoin="round"/>
<path d="M700.8,2383.02V2392.56M694.3,2383.02H707.3M694.3,2392.56H707.3M713.64,2379.58V2389.12M707.14,2379.58H720.14M707.14,2389.12H720.14M728.62,2376.13V2385.67M722.12,2376.13H735.12M722.12,2385.67H735.12M747.88,2370.04V2379.58M741.38,2370.04H754.38M741.38,2379.58H754.38M765,2356.52V2366.06M758.5,2356.52H771.5M758.5,2366.06H771.5M779.98,2334V2343.54M773.48,2334H786.48M773.48,2343.54H786.48M797.1,2289.48V2299.02M790.6,2289.48H803.6M790.6,2299.02H803.6M807.8,2200.17V2209.71M801.3,2200.17H814.3M801.3,2209.71H814.3M827.06,2155.65V2165.19M820.56,2155.65H833.56M820.56,2165.19H833.56M847.6,2150.36V2159.89M841.1,2150.36H854.1M841.1,2159.89H854.1M865.58,2157.24V2166.78M859.08,2157.24H872.08M859.08,2166.78H872.08M878.42,2163.34V2172.88M871.92,2163.34H884.92M871.92,2172.88H884.92M898.96,2163.34V2172.88M892.46,2163.34H905.46M892.46,2172.88H905.46M915.87,2152.21V2161.75M909.37,2152.21H922.37M909.37,2161.75H922.37M934.7,2138.43V2147.97M928.2,2138.43H941.2M928.2,2147.97H941.2M946.9,2140.02V2149.56M940.4,2140.02H953.4M940.4,2149.56H953.4M965.52,2145.32V2154.86M959.02,2145.32H972.02M959.02,2154.86H972.02M980.07,2128.09V2137.63M973.57,2128.09H986.57M973.57,2137.63H986.57M1003.18,2124.65V2134.19M996.68,2124.65H1009.68M996.68,2134.19H1009.68M1010.67,2155.65V2165.19M1004.17,2155.65H1017.17M1004.17,2165.19H1017.17M1030.57,2215.81V2225.35M1024.07,2215.81H1037.07M1024.07,2225.35H1037.07M1047.69,2255.29V2264.83M1041.19,2255.29H1054.19M1041.19,2264.83H1054.19M1065.03,2272.52V2282.06M1058.53,2272.52H1071.53M1058.53,2282.06H1071.53M1082.15,2296.37V2305.91M1075.65,2296.37H1088.65M1075.65,2305.91H1088.65M1099.27,2320.48V2330.02M1092.77,2320.48H1105.77M1092.77,2330.02H1105.77M1119.81,2341.15V2350.69M1113.31,2341.15H1126.31M1113.31,2350.69H1126.31M1133.51,2351.22V2360.76M1127.01,2351.22H1140.01M1127.01,2360.76H1140.01M1152.55,2349.63V2359.17M1146.05,2349.63H1159.05M1146.05,2359.17H1159.05M1169.67,2342.74V2352.28M1163.17,2342.74H1176.17M1163.17,2352.28H1176.17M1186.79,2356.52V2366.06M1180.29,2356.52H1193.29M1180.29,2366.06H1193.29M1203.91,2377.19V2386.73M1197.41,2377.19H1210.41M1197.41,2386.73H1210.41M1222.75,2389.91V2399.45M1216.25,2389.91H1229.25M1216.25,2399.45H1229.25M1236.44,2392.57V2402.11M1229.94,2392.57H1242.94M1229.94,2402.11H1242.94" stroke="#eb98c9" stroke-width="2.2" fill="none"/>
<polyline points="700.8,2387.79 713.64,2384.35 728.62,2380.9 747.88,2374.81 765,2361.29 779.98,2338.77 797.1,2294.25 807.8,2204.94 827.06,2160.42 847.6,2155.12 865.58,2162.01 878.42,2168.11 898.96,2168.11 915.87,2156.98 934.7,2143.2 946.9,2144.79 965.52,2150.09 980.07,2132.86 1003.18,2129.42 1010.67,2160.42 1030.57,2220.58 1047.69,2260.06 1065.03,2277.29 1082.15,2301.14 1099.27,2325.25 1119.81,2345.92 1133.51,2355.99 1152.55,2354.4 1169.67,2347.51 1186.79,2361.29 1203.91,2381.96 1222.75,2394.68 1236.44,2397.34" fill="none" stroke="#eb98c9" stroke-width="3.4" stroke-linejoin="round"/>
</g>
<rect x="700.8" y="2050.7" width="535" height="357.5" fill="none" stroke="#000" stroke-width="3.8"/>
<line x1="700.8" y1="2275.7" x2="711.3" y2="2275.7" stroke="#000" stroke-width="3.6"/>
<line x1="700.8" y1="2143.2" x2="711.3" y2="2143.2" stroke="#000" stroke-width="3.6"/>
<text x="687.5" y="2418.4" text-anchor="end">0.0</text>
<text x="687.5" y="2285.9" text-anchor="end">0.5</text>
<text x="687.5" y="2153.4" text-anchor="end">1.0</text>
<line x1="807.8" y1="2408.2" x2="807.8" y2="2402.2" stroke="#000" stroke-width="3.4"/>
<line x1="914.8" y1="2408.2" x2="914.8" y2="2396.7" stroke="#000" stroke-width="3.4"/>
<line x1="1021.8" y1="2408.2" x2="1021.8" y2="2402.2" stroke="#000" stroke-width="3.4"/>
<line x1="1128.8" y1="2408.2" x2="1128.8" y2="2396.7" stroke="#000" stroke-width="3.4"/>
<line x1="1235.8" y1="2408.2" x2="1235.8" y2="2402.2" stroke="#000" stroke-width="3.4"/>
<text x="700.8" y="2442" text-anchor="middle">2800</text>
<text x="914.8" y="2442" text-anchor="middle">2900</text>
<text x="1128.8" y="2442" text-anchor="middle">3000</text>
<text x="966.3" y="2490.3" text-anchor="middle">Wavenumber (cm<tspan font-size="19" dy="-11">−1</tspan><tspan dy="11">)</tspan></text>
<text x="621.5" y="2230.95" font-size="29" text-anchor="middle" transform="rotate(-90 621.5 2230.95)">Normalized SRS intensity (a.u.)</text>
<line x1="813.3" y1="2291.4" x2="890.2" y2="2291.4" stroke="#eb98c9" stroke-width="3.5" stroke-linecap="round"/>
<text x="902.2" y="2301.7">CT</text>
<line x1="813.3" y1="2321.4" x2="890.2" y2="2321.4" stroke="#df95f2" stroke-width="3.5" stroke-linecap="round"/>
<text x="902.2" y="2331.7">12 h</text>
<line x1="813.3" y1="2349" x2="890.2" y2="2349" stroke="#9438f5" stroke-width="3.5" stroke-linecap="round"/>
<text x="902.2" y="2359.3">1 day</text>
<line x1="813.3" y1="2379" x2="890.2" y2="2379" stroke="#551b9a" stroke-width="3.5" stroke-linecap="round"/>
<text x="902.2" y="2389.3">3 day</text>
<text x="1169.6" y="2262.4" text-anchor="middle" fill="#400f98">UL</text>
<text x="1168.4" y="2296.7" text-anchor="middle" fill="#400f98">3022</text>
<rect x="1168" y="2305.3" width="4" height="15" fill="#4b1a94"/>
<polygon points="1161,2319.9 1179,2319.9 1170,2337" fill="#4b1a94"/>
<text x="1357.5" y="2014.9" font-size="42" font-weight="bold">k</text>
<text x="1704.2" y="2022.4" text-anchor="middle">UL peak ratio</text>
<rect x="1523.8" y="2191.4" width="42.9" height="203.8" fill="#ec9ccb"/>
<rect x="1523.8" y="2191.4" width="42.9" height="205.1" fill="none" stroke="#000" stroke-width="2.6"/>
<rect x="1635.1" y="2192.2" width="42.8" height="203" fill="#c98cf2"/>
<rect x="1635.1" y="2192.2" width="42.8" height="204.3" fill="none" stroke="#000" stroke-width="2.6"/>
<rect x="1746.7" y="2207.3" width="42.9" height="187.9" fill="#9633fb"/>
<rect x="1746.7" y="2207.3" width="42.9" height="189.2" fill="none" stroke="#000" stroke-width="2.6"/>
<rect x="1857.6" y="2281.1" width="42.9" height="114.1" fill="#561c9c"/>
<rect x="1857.6" y="2281.1" width="42.9" height="115.4" fill="none" stroke="#000" stroke-width="2.6"/>
<circle cx="1534.64" cy="2153.77" r="3.4" fill="#000"/>
<circle cx="1545.24" cy="2153.01" r="3.4" fill="#000"/>
<circle cx="1557.35" cy="2160.58" r="3.4" fill="#000"/>
<circle cx="1530.86" cy="2166.26" r="3.4" fill="#000"/>
<circle cx="1546" cy="2167.4" r="3.4" fill="#000"/>
<circle cx="1554.32" cy="2162.48" r="3.4" fill="#000"/>
<circle cx="1527.07" cy="2190.86" r="3.4" fill="#000"/>
<circle cx="1538.43" cy="2187.07" r="3.4" fill="#000"/>
<circle cx="1549.78" cy="2188.97" r="3.4" fill="#000"/>
<circle cx="1561.14" cy="2191.62" r="3.4" fill="#000"/>
<circle cx="1530.86" cy="2196.54" r="3.4" fill="#000"/>
<circle cx="1542.21" cy="2199.19" r="3.4" fill="#000"/>
<circle cx="1553.57" cy="2196.54" r="3.4" fill="#000"/>
<circle cx="1534.64" cy="2202.21" r="3.4" fill="#000"/>
<circle cx="1546" cy="2206" r="3.4" fill="#000"/>
<circle cx="1557.35" cy="2204.11" r="3.4" fill="#000"/>
<circle cx="1545.24" cy="2258.98" r="3.4" fill="#000"/>
<circle cx="1650.07" cy="2117.06" r="3.4" fill="#000"/>
<circle cx="1663.32" cy="2118.2" r="3.4" fill="#000"/>
<circle cx="1656.51" cy="2142.42" r="3.4" fill="#000"/>
<circle cx="1656.51" cy="2156.04" r="3.4" fill="#000"/>
<circle cx="1656.51" cy="2168.15" r="3.4" fill="#000"/>
<circle cx="1642.5" cy="2179.51" r="3.4" fill="#000"/>
<circle cx="1656.51" cy="2181.4" r="3.4" fill="#000"/>
<circle cx="1670.89" cy="2180.26" r="3.4" fill="#000"/>
<circle cx="1640.61" cy="2188.97" r="3.4" fill="#000"/>
<circle cx="1651.97" cy="2188.97" r="3.4" fill="#000"/>
<circle cx="1665.21" cy="2188.97" r="3.4" fill="#000"/>
<circle cx="1642.5" cy="2198.43" r="3.4" fill="#000"/>
<circle cx="1655.75" cy="2200.32" r="3.4" fill="#000"/>
<circle cx="1669" cy="2202.21" r="3.4" fill="#000"/>
<circle cx="1648.18" cy="2204.11" r="3.4" fill="#000"/>
<circle cx="1655.75" cy="2224.92" r="3.4" fill="#000"/>
<circle cx="1638.72" cy="2224.92" r="3.4" fill="#000"/>
<circle cx="1664.08" cy="2224.92" r="3.4" fill="#000"/>
<circle cx="1655.75" cy="2250.66" r="3.4" fill="#000"/>
<circle cx="1656.51" cy="2272.23" r="3.4" fill="#000"/>
<circle cx="1768.15" cy="2147.34" r="3.4" fill="#000"/>
<circle cx="1746.58" cy="2171.18" r="3.4" fill="#000"/>
<circle cx="1759.83" cy="2166.26" r="3.4" fill="#000"/>
<circle cx="1773.07" cy="2166.26" r="3.4" fill="#000"/>
<circle cx="1788.21" cy="2171.18" r="3.4" fill="#000"/>
<circle cx="1759.83" cy="2177.61" r="3.4" fill="#000"/>
<circle cx="1768.15" cy="2185.18" r="3.4" fill="#000"/>
<circle cx="1768.15" cy="2197.67" r="3.4" fill="#000"/>
<circle cx="1759.83" cy="2206" r="3.4" fill="#000"/>
<circle cx="1777.61" cy="2206" r="3.4" fill="#000"/>
<circle cx="1759.83" cy="2211.67" r="3.4" fill="#000"/>
<circle cx="1774.96" cy="2221.14" r="3.4" fill="#000"/>
<circle cx="1759.83" cy="2228.71" r="3.4" fill="#000"/>
<circle cx="1774.96" cy="2230.6" r="3.4" fill="#000"/>
<circle cx="1768.15" cy="2247.63" r="3.4" fill="#000"/>
<circle cx="1768.15" cy="2262.77" r="3.4" fill="#000"/>
<circle cx="1768.15" cy="2273.36" r="3.4" fill="#000"/>
<circle cx="1873.36" cy="2249.52" r="3.4" fill="#000"/>
<circle cx="1884.72" cy="2254.44" r="3.4" fill="#000"/>
<circle cx="1869.58" cy="2267.31" r="3.4" fill="#000"/>
<circle cx="1879.04" cy="2268.44" r="3.4" fill="#000"/>
<circle cx="1860.12" cy="2276.01" r="3.4" fill="#000"/>
<circle cx="1869.58" cy="2275.26" r="3.4" fill="#000"/>
<circle cx="1879.04" cy="2277.15" r="3.4" fill="#000"/>
<circle cx="1888.5" cy="2276.01" r="3.4" fill="#000"/>
<circle cx="1897.96" cy="2274.12" r="3.4" fill="#000"/>
<circle cx="1860.12" cy="2285.47" r="3.4" fill="#000"/>
<circle cx="1871.47" cy="2284.72" r="3.4" fill="#000"/>
<circle cx="1882.83" cy="2285.47" r="3.4" fill="#000"/>
<circle cx="1894.18" cy="2286.23" r="3.4" fill="#000"/>
<circle cx="1860.12" cy="2296.83" r="3.4" fill="#000"/>
<circle cx="1869.58" cy="2294.94" r="3.4" fill="#000"/>
<circle cx="1888.5" cy="2294.94" r="3.4" fill="#000"/>
<circle cx="1897.96" cy="2294.94" r="3.4" fill="#000"/>
<circle cx="1901.75" cy="2300.61" r="3.4" fill="#000"/>
<circle cx="1856.33" cy="2300.61" r="3.4" fill="#000"/>
<path d="M1545.24,2183.29V2198.43M1530.24,2198.43H1560.24M1530.24,2183.29H1560.24" stroke="#000" stroke-width="2.8" fill="none"/>
<path d="M1656.51,2178.75V2199.19M1641.51,2199.19H1671.51M1641.51,2178.75H1671.51" stroke="#000" stroke-width="2.8" fill="none"/>
<path d="M1768.15,2194.64V2214.32M1753.15,2214.32H1783.15M1753.15,2194.64H1783.15" stroke="#000" stroke-width="2.8" fill="none"/>
<path d="M1879.04,2276.01V2283.58M1864.04,2283.58H1894.04M1864.04,2276.01H1894.04" stroke="#000" stroke-width="2.8" fill="none"/>
<line x1="1545.25" y1="2395.2" x2="1545.25" y2="2385.5" stroke="#000" stroke-width="3.4"/>
<line x1="1656.5" y1="2395.2" x2="1656.5" y2="2385.5" stroke="#000" stroke-width="3.4"/>
<line x1="1768.15" y1="2395.2" x2="1768.15" y2="2385.5" stroke="#000" stroke-width="3.4"/>
<line x1="1879.05" y1="2395.2" x2="1879.05" y2="2385.5" stroke="#000" stroke-width="3.4"/>
<line x1="1497.6" y1="2106.5" x2="1497.6" y2="2397.1" stroke="#000" stroke-width="3.8"/>
<line x1="1495.7" y1="2395.2" x2="1507.6" y2="2395.2" stroke="#000" stroke-width="3.8"/>
<text x="1484.6" y="2405.4" font-size="28.5" text-anchor="end">0.00</text>
<line x1="1495.7" y1="2323.4" x2="1507.6" y2="2323.4" stroke="#000" stroke-width="3.8"/>
<text x="1484.6" y="2333.6" font-size="28.5" text-anchor="end">0.08</text>
<line x1="1495.7" y1="2251.6" x2="1507.6" y2="2251.6" stroke="#000" stroke-width="3.8"/>
<text x="1484.6" y="2261.8" font-size="28.5" text-anchor="end">0.16</text>
<line x1="1495.7" y1="2179.8" x2="1507.6" y2="2179.8" stroke="#000" stroke-width="3.8"/>
<text x="1484.6" y="2190" font-size="28.5" text-anchor="end">0.24</text>
<line x1="1495.7" y1="2108" x2="1507.6" y2="2108" stroke="#000" stroke-width="3.8"/>
<text x="1484.6" y="2118.2" font-size="28.5" text-anchor="end">0.32</text>
<line x1="1495.7" y1="2395.2" x2="1926.4" y2="2395.2" stroke="#000" stroke-width="3.8"/>
<text x="1545.25" y="2430.4" text-anchor="middle">CT</text>
<text x="1656.5" y="2430.4" text-anchor="middle">12 h</text>
<text x="1768.15" y="2430.4" text-anchor="middle">1 day</text>
<text x="1879.05" y="2430.4" text-anchor="middle">3 days</text>
<path d="M1541.5,2100.8V2090.6H1652.7V2100.8" stroke="#000" stroke-width="1.8" fill="none"/>
<path d="M1541.5,2083V2074.3H1766.6V2083" stroke="#000" stroke-width="1.8" fill="none"/>
<path d="M1541.5,2066V2056.5H1863.9V2066" stroke="#000" stroke-width="1.8" fill="none"/>
<line x1="1541.5" y1="2090.6" x2="1541.5" y2="2101" stroke="#000" stroke-width="1.8"/>
<text x="1551.7" y="2088.7" font-size="17.5" xml:space="preserve"><tspan font-style="italic">ns</tspan>  <tspan font-style="italic">P</tspan> = 0.956</text>
<text x="1633" y="2072.8" font-size="18" font-style="italic">ns</text>
<text x="1667" y="2072.8" font-size="18.6"><tspan font-style="italic">P</tspan> = 0.154</text>
<text x="1687" y="2059.5" font-size="25">***</text>
<text x="1731" y="2053.9" font-size="17.5"><tspan font-style="italic">P</tspan> &lt; 0.0001</text>
<text x="1398.4" y="2276" font-size="29" text-anchor="middle" transform="rotate(-90 1398.4 2276)">I<tspan font-size="20.5" dy="8.7">3022</tspan><tspan dy="-8.7">/I</tspan><tspan font-size="20.5" dy="8.7">2908</tspan></text>
</svg>
</body></html>
